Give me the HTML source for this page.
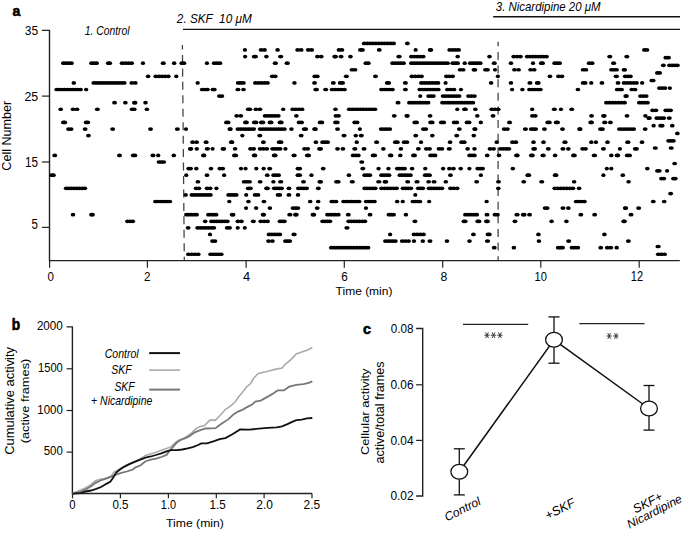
<!DOCTYPE html>
<html><head><meta charset="utf-8"><style>
html,body{margin:0;padding:0;background:#fff;overflow:hidden;width:685px;height:533px;}
svg{display:block;}
</style></head><body>
<svg width="685" height="533" viewBox="0 0 685 533">
<rect width="685" height="533" fill="#fff"/>
<text font-family="Liberation Sans, sans-serif" font-size="100" font-weight="bold" fill="#000" stroke="#000" stroke-width="4" transform="matrix(0.14032,0,0,0.14599,12.40,15.85)" xml:space="preserve">a</text>
<path d="M41.9,30.4 H49.5 V260.6 H679.8" fill="none" stroke="#222" stroke-width="1.4"/>
<line x1="41.9" y1="96.1" x2="49.5" y2="96.1" stroke="#222" stroke-width="1.2"/>
<line x1="41.9" y1="162.0" x2="49.5" y2="162.0" stroke="#222" stroke-width="1.2"/>
<line x1="41.9" y1="227.4" x2="49.5" y2="227.4" stroke="#222" stroke-width="1.2"/>
<text font-family="Liberation Sans, sans-serif" font-size="100" fill="#000"  transform="matrix(0.12050,0,0,0.13559,24.70,34.76)" xml:space="preserve">35</text>
<text font-family="Liberation Sans, sans-serif" font-size="100" fill="#000"  transform="matrix(0.12320,0,0,0.13701,24.40,101.26)" xml:space="preserve">25</text>
<text font-family="Liberation Sans, sans-serif" font-size="100" fill="#000"  transform="matrix(0.11691,0,0,0.13754,25.10,167.36)" xml:space="preserve">15</text>
<text font-family="Liberation Sans, sans-serif" font-size="100" fill="#000"  transform="matrix(0.11511,0,0,0.13754,31.40,228.86)" xml:space="preserve">5</text>
<line x1="49.6" y1="260.6" x2="49.6" y2="267.8" stroke="#222" stroke-width="1.2"/>
<line x1="147.4" y1="260.6" x2="147.4" y2="267.8" stroke="#222" stroke-width="1.2"/>
<line x1="246.1" y1="260.6" x2="246.1" y2="267.8" stroke="#222" stroke-width="1.2"/>
<line x1="344.3" y1="260.6" x2="344.3" y2="267.8" stroke="#222" stroke-width="1.2"/>
<line x1="442.7" y1="260.6" x2="442.7" y2="267.8" stroke="#222" stroke-width="1.2"/>
<line x1="540.8" y1="260.6" x2="540.8" y2="267.8" stroke="#222" stroke-width="1.2"/>
<line x1="639.2" y1="260.6" x2="639.2" y2="267.8" stroke="#222" stroke-width="1.2"/>
<text font-family="Liberation Sans, sans-serif" font-size="100" fill="#000"  transform="matrix(0.11511,0,0,0.13559,47.60,281.16)" xml:space="preserve">0</text>
<text font-family="Liberation Sans, sans-serif" font-size="100" fill="#000"  transform="matrix(0.11691,0,0,0.13181,143.90,281.00)" xml:space="preserve">2</text>
<text font-family="Liberation Sans, sans-serif" font-size="100" fill="#000"  transform="matrix(0.12950,0,0,0.13372,243.00,281.00)" xml:space="preserve">4</text>
<text font-family="Liberation Sans, sans-serif" font-size="100" fill="#000"  transform="matrix(0.11691,0,0,0.13136,341.20,280.77)" xml:space="preserve">6</text>
<text font-family="Liberation Sans, sans-serif" font-size="100" fill="#000"  transform="matrix(0.12230,0,0,0.12994,440.60,280.87)" xml:space="preserve">8</text>
<text font-family="Liberation Sans, sans-serif" font-size="100" fill="#000"  transform="matrix(0.11061,0,0,0.12994,534.60,280.87)" xml:space="preserve">10</text>
<text font-family="Liberation Sans, sans-serif" font-size="100" fill="#000"  transform="matrix(0.11061,0,0,0.13754,630.80,280.90)" xml:space="preserve">12</text>
<text font-family="Liberation Sans, sans-serif" font-size="100" fill="#000"  transform="matrix(0.12004,0,0,0.11803,335.60,294.56)" xml:space="preserve">Time (min)</text>
<text font-family="Liberation Sans, sans-serif" font-size="100" fill="#000" transform="translate(10.68,170.70) rotate(-90) scale(0.12597,0.12245)" xml:space="preserve">Cell Number</text>
<text font-family="Liberation Sans, sans-serif" font-size="100" font-style="italic" fill="#000"  transform="matrix(0.10372,0,0,0.12517,84.70,35.37)" xml:space="preserve">1. Control</text>
<text font-family="Liberation Sans, sans-serif" font-size="100" font-style="italic" fill="#000"  transform="matrix(0.11755,0,0,0.13034,176.87,23.00)" xml:space="preserve">2. SKF  10 μM</text>
<text font-family="Liberation Sans, sans-serif" font-size="100" font-style="italic" fill="#000"  transform="matrix(0.11447,0,0,0.11897,495.80,11.23)" xml:space="preserve">3. Nicardipine 20 μM</text>
<line x1="183" y1="29.4" x2="680" y2="29.4" stroke="#111" stroke-width="1.4"/>
<line x1="493.2" y1="16.8" x2="680" y2="16.8" stroke="#111" stroke-width="1.4"/>
<line x1="182.4" y1="45" x2="184.3" y2="260" stroke="#404040" stroke-width="1.25" stroke-dasharray="8 5.45" stroke-dashoffset="3.5"/>
<line x1="498.1" y1="41.8" x2="498.1" y2="260" stroke="#404040" stroke-width="1.25" stroke-dasharray="8 5.62" stroke-dashoffset="3.5"/>
<g fill="#000"><ellipse cx="63.40" cy="63.14" rx="2.4" ry="1.85"/>
<ellipse cx="66.07" cy="63.14" rx="2.4" ry="1.85"/>
<ellipse cx="68.73" cy="63.14" rx="2.4" ry="1.85"/>
<ellipse cx="71.40" cy="63.14" rx="2.4" ry="1.85"/>
<ellipse cx="91.50" cy="63.14" rx="2.4" ry="1.85"/>
<ellipse cx="94.05" cy="63.14" rx="2.4" ry="1.85"/>
<ellipse cx="96.60" cy="63.14" rx="2.4" ry="1.85"/>
<ellipse cx="108.30" cy="63.14" rx="2.4" ry="1.85"/>
<ellipse cx="109.70" cy="63.14" rx="2.4" ry="1.85"/>
<ellipse cx="122.10" cy="63.14" rx="2.4" ry="1.85"/>
<ellipse cx="125.27" cy="63.14" rx="2.4" ry="1.85"/>
<ellipse cx="128.43" cy="63.14" rx="2.4" ry="1.85"/>
<ellipse cx="131.60" cy="63.14" rx="2.4" ry="1.85"/>
<ellipse cx="142.95" cy="63.14" rx="2.10" ry="1.85"/>
<ellipse cx="163.25" cy="63.14" rx="2.55" ry="1.85"/>
<ellipse cx="174.15" cy="63.14" rx="2.25" ry="1.85"/>
<ellipse cx="181.80" cy="63.14" rx="2.4" ry="1.85"/>
<ellipse cx="183.90" cy="63.14" rx="2.4" ry="1.85"/>
<ellipse cx="206.95" cy="63.14" rx="2.10" ry="1.85"/>
<ellipse cx="214.20" cy="63.14" rx="2.4" ry="1.85"/>
<ellipse cx="217.05" cy="63.14" rx="2.4" ry="1.85"/>
<ellipse cx="219.90" cy="63.14" rx="2.4" ry="1.85"/>
<ellipse cx="275.30" cy="63.14" rx="2.60" ry="1.85"/>
<ellipse cx="287.20" cy="63.14" rx="2.70" ry="1.85"/>
<ellipse cx="365.90" cy="63.14" rx="2.4" ry="1.85"/>
<ellipse cx="368.30" cy="63.14" rx="2.4" ry="1.85"/>
<ellipse cx="392.60" cy="63.14" rx="2.4" ry="1.85"/>
<ellipse cx="395.32" cy="63.14" rx="2.4" ry="1.85"/>
<ellipse cx="398.05" cy="63.14" rx="2.4" ry="1.85"/>
<ellipse cx="400.77" cy="63.14" rx="2.4" ry="1.85"/>
<ellipse cx="403.50" cy="63.14" rx="2.4" ry="1.85"/>
<ellipse cx="411.40" cy="63.14" rx="2.4" ry="1.85"/>
<ellipse cx="414.18" cy="63.14" rx="2.4" ry="1.85"/>
<ellipse cx="416.95" cy="63.14" rx="2.4" ry="1.85"/>
<ellipse cx="419.73" cy="63.14" rx="2.4" ry="1.85"/>
<ellipse cx="422.51" cy="63.14" rx="2.4" ry="1.85"/>
<ellipse cx="425.28" cy="63.14" rx="2.4" ry="1.85"/>
<ellipse cx="428.06" cy="63.14" rx="2.4" ry="1.85"/>
<ellipse cx="430.84" cy="63.14" rx="2.4" ry="1.85"/>
<ellipse cx="433.62" cy="63.14" rx="2.4" ry="1.85"/>
<ellipse cx="436.39" cy="63.14" rx="2.4" ry="1.85"/>
<ellipse cx="439.17" cy="63.14" rx="2.4" ry="1.85"/>
<ellipse cx="441.95" cy="63.14" rx="2.4" ry="1.85"/>
<ellipse cx="444.72" cy="63.14" rx="2.4" ry="1.85"/>
<ellipse cx="447.50" cy="63.14" rx="2.4" ry="1.85"/>
<ellipse cx="452.80" cy="63.14" rx="2.4" ry="1.85"/>
<ellipse cx="455.20" cy="63.14" rx="2.4" ry="1.85"/>
<ellipse cx="457.60" cy="63.14" rx="2.4" ry="1.85"/>
<ellipse cx="464.75" cy="63.14" rx="2.15" ry="1.85"/>
<ellipse cx="470.30" cy="63.14" rx="2.4" ry="1.85"/>
<ellipse cx="472.77" cy="63.14" rx="2.4" ry="1.85"/>
<ellipse cx="475.25" cy="63.14" rx="2.4" ry="1.85"/>
<ellipse cx="477.73" cy="63.14" rx="2.4" ry="1.85"/>
<ellipse cx="480.20" cy="63.14" rx="2.4" ry="1.85"/>
<ellipse cx="494.25" cy="63.14" rx="2.55" ry="1.85"/>
<ellipse cx="510.95" cy="63.14" rx="2.25" ry="1.85"/>
<ellipse cx="533.00" cy="63.14" rx="2.10" ry="1.85"/>
<ellipse cx="541.30" cy="63.14" rx="2.4" ry="1.85"/>
<ellipse cx="542.60" cy="63.14" rx="2.4" ry="1.85"/>
<ellipse cx="554.70" cy="63.14" rx="2.4" ry="1.85"/>
<ellipse cx="557.15" cy="63.14" rx="2.4" ry="1.85"/>
<ellipse cx="559.60" cy="63.14" rx="2.4" ry="1.85"/>
<ellipse cx="589.20" cy="63.14" rx="2.4" ry="1.85"/>
<ellipse cx="592.10" cy="63.14" rx="2.4" ry="1.85"/>
<ellipse cx="613.60" cy="63.14" rx="2.60" ry="1.85"/>
<ellipse cx="148.10" cy="76.32" rx="2.30" ry="1.85"/>
<ellipse cx="155.80" cy="76.32" rx="2.4" ry="1.85"/>
<ellipse cx="158.93" cy="76.32" rx="2.4" ry="1.85"/>
<ellipse cx="162.05" cy="76.32" rx="2.4" ry="1.85"/>
<ellipse cx="165.17" cy="76.32" rx="2.4" ry="1.85"/>
<ellipse cx="168.30" cy="76.32" rx="2.4" ry="1.85"/>
<ellipse cx="176.30" cy="76.32" rx="2.10" ry="1.85"/>
<ellipse cx="272.30" cy="76.32" rx="2.4" ry="1.85"/>
<ellipse cx="275.20" cy="76.32" rx="2.4" ry="1.85"/>
<ellipse cx="314.80" cy="76.32" rx="2.4" ry="1.85"/>
<ellipse cx="317.30" cy="76.32" rx="2.4" ry="1.85"/>
<ellipse cx="346.35" cy="76.32" rx="2.55" ry="1.85"/>
<ellipse cx="375.50" cy="76.32" rx="2.50" ry="1.85"/>
<ellipse cx="411.90" cy="76.32" rx="2.4" ry="1.85"/>
<ellipse cx="415.10" cy="76.32" rx="2.4" ry="1.85"/>
<ellipse cx="418.30" cy="76.32" rx="2.4" ry="1.85"/>
<ellipse cx="421.50" cy="76.32" rx="2.4" ry="1.85"/>
<ellipse cx="446.40" cy="76.32" rx="2.4" ry="1.85"/>
<ellipse cx="449.50" cy="76.32" rx="2.4" ry="1.85"/>
<ellipse cx="452.60" cy="76.32" rx="2.4" ry="1.85"/>
<ellipse cx="497.90" cy="76.32" rx="2.10" ry="1.85"/>
<ellipse cx="549.95" cy="76.32" rx="2.35" ry="1.85"/>
<ellipse cx="558.50" cy="76.32" rx="2.4" ry="1.85"/>
<ellipse cx="561.90" cy="76.32" rx="2.4" ry="1.85"/>
<ellipse cx="616.30" cy="76.32" rx="2.70" ry="1.85"/>
<ellipse cx="625.20" cy="76.32" rx="2.4" ry="1.85"/>
<ellipse cx="627.80" cy="76.32" rx="2.4" ry="1.85"/>
<ellipse cx="630.40" cy="76.32" rx="2.4" ry="1.85"/>
<ellipse cx="73.80" cy="82.91" rx="2.30" ry="1.85"/>
<ellipse cx="93.80" cy="82.91" rx="2.4" ry="1.85"/>
<ellipse cx="96.56" cy="82.91" rx="2.4" ry="1.85"/>
<ellipse cx="99.33" cy="82.91" rx="2.4" ry="1.85"/>
<ellipse cx="102.09" cy="82.91" rx="2.4" ry="1.85"/>
<ellipse cx="104.85" cy="82.91" rx="2.4" ry="1.85"/>
<ellipse cx="107.62" cy="82.91" rx="2.4" ry="1.85"/>
<ellipse cx="110.38" cy="82.91" rx="2.4" ry="1.85"/>
<ellipse cx="113.15" cy="82.91" rx="2.4" ry="1.85"/>
<ellipse cx="115.91" cy="82.91" rx="2.4" ry="1.85"/>
<ellipse cx="118.67" cy="82.91" rx="2.4" ry="1.85"/>
<ellipse cx="121.44" cy="82.91" rx="2.4" ry="1.85"/>
<ellipse cx="124.20" cy="82.91" rx="2.4" ry="1.85"/>
<ellipse cx="131.80" cy="82.91" rx="2.4" ry="1.85"/>
<ellipse cx="135.30" cy="82.91" rx="2.4" ry="1.85"/>
<ellipse cx="197.65" cy="82.91" rx="2.15" ry="1.85"/>
<ellipse cx="238.20" cy="82.91" rx="2.4" ry="1.85"/>
<ellipse cx="240.80" cy="82.91" rx="2.4" ry="1.85"/>
<ellipse cx="243.40" cy="82.91" rx="2.4" ry="1.85"/>
<ellipse cx="255.40" cy="82.91" rx="2.4" ry="1.85"/>
<ellipse cx="258.43" cy="82.91" rx="2.4" ry="1.85"/>
<ellipse cx="261.45" cy="82.91" rx="2.4" ry="1.85"/>
<ellipse cx="264.48" cy="82.91" rx="2.4" ry="1.85"/>
<ellipse cx="267.50" cy="82.91" rx="2.4" ry="1.85"/>
<ellipse cx="294.45" cy="82.91" rx="2.25" ry="1.85"/>
<ellipse cx="314.55" cy="82.91" rx="2.45" ry="1.85"/>
<ellipse cx="333.30" cy="82.91" rx="2.50" ry="1.85"/>
<ellipse cx="340.20" cy="82.91" rx="2.4" ry="1.85"/>
<ellipse cx="342.60" cy="82.91" rx="2.4" ry="1.85"/>
<ellipse cx="387.20" cy="82.91" rx="2.4" ry="1.85"/>
<ellipse cx="388.70" cy="82.91" rx="2.4" ry="1.85"/>
<ellipse cx="405.40" cy="82.91" rx="2.50" ry="1.85"/>
<ellipse cx="421.40" cy="82.91" rx="2.4" ry="1.85"/>
<ellipse cx="424.17" cy="82.91" rx="2.4" ry="1.85"/>
<ellipse cx="426.93" cy="82.91" rx="2.4" ry="1.85"/>
<ellipse cx="429.70" cy="82.91" rx="2.4" ry="1.85"/>
<ellipse cx="432.47" cy="82.91" rx="2.4" ry="1.85"/>
<ellipse cx="435.23" cy="82.91" rx="2.4" ry="1.85"/>
<ellipse cx="438.00" cy="82.91" rx="2.4" ry="1.85"/>
<ellipse cx="445.55" cy="82.91" rx="2.10" ry="1.85"/>
<ellipse cx="491.10" cy="82.91" rx="2.30" ry="1.85"/>
<ellipse cx="510.95" cy="82.91" rx="2.25" ry="1.85"/>
<ellipse cx="529.95" cy="82.91" rx="2.55" ry="1.85"/>
<ellipse cx="537.20" cy="82.91" rx="2.4" ry="1.85"/>
<ellipse cx="538.30" cy="82.91" rx="2.4" ry="1.85"/>
<ellipse cx="583.10" cy="82.91" rx="2.4" ry="1.85"/>
<ellipse cx="585.20" cy="82.91" rx="2.4" ry="1.85"/>
<ellipse cx="591.25" cy="82.91" rx="2.15" ry="1.85"/>
<ellipse cx="601.95" cy="82.91" rx="2.45" ry="1.85"/>
<ellipse cx="618.05" cy="82.91" rx="2.45" ry="1.85"/>
<ellipse cx="624.10" cy="82.91" rx="2.4" ry="1.85"/>
<ellipse cx="627.20" cy="82.91" rx="2.4" ry="1.85"/>
<ellipse cx="630.30" cy="82.91" rx="2.4" ry="1.85"/>
<ellipse cx="633.40" cy="82.91" rx="2.4" ry="1.85"/>
<ellipse cx="636.50" cy="82.91" rx="2.4" ry="1.85"/>
<ellipse cx="642.15" cy="82.91" rx="2.15" ry="1.85"/>
<ellipse cx="56.70" cy="89.50" rx="2.4" ry="1.85"/>
<ellipse cx="59.36" cy="89.50" rx="2.4" ry="1.85"/>
<ellipse cx="62.01" cy="89.50" rx="2.4" ry="1.85"/>
<ellipse cx="64.67" cy="89.50" rx="2.4" ry="1.85"/>
<ellipse cx="67.32" cy="89.50" rx="2.4" ry="1.85"/>
<ellipse cx="69.98" cy="89.50" rx="2.4" ry="1.85"/>
<ellipse cx="72.63" cy="89.50" rx="2.4" ry="1.85"/>
<ellipse cx="75.29" cy="89.50" rx="2.4" ry="1.85"/>
<ellipse cx="77.94" cy="89.50" rx="2.4" ry="1.85"/>
<ellipse cx="80.60" cy="89.50" rx="2.4" ry="1.85"/>
<ellipse cx="86.15" cy="89.50" rx="2.15" ry="1.85"/>
<ellipse cx="202.20" cy="89.50" rx="2.4" ry="1.85"/>
<ellipse cx="204.80" cy="89.50" rx="2.4" ry="1.85"/>
<ellipse cx="207.40" cy="89.50" rx="2.4" ry="1.85"/>
<ellipse cx="212.90" cy="89.50" rx="2.4" ry="1.85"/>
<ellipse cx="214.30" cy="89.50" rx="2.4" ry="1.85"/>
<ellipse cx="237.95" cy="89.50" rx="2.55" ry="1.85"/>
<ellipse cx="243.50" cy="89.50" rx="2.30" ry="1.85"/>
<ellipse cx="315.70" cy="89.50" rx="2.4" ry="1.85"/>
<ellipse cx="316.60" cy="89.50" rx="2.4" ry="1.85"/>
<ellipse cx="325.65" cy="89.50" rx="2.55" ry="1.85"/>
<ellipse cx="332.10" cy="89.50" rx="2.4" ry="1.85"/>
<ellipse cx="335.20" cy="89.50" rx="2.4" ry="1.85"/>
<ellipse cx="338.30" cy="89.50" rx="2.4" ry="1.85"/>
<ellipse cx="341.40" cy="89.50" rx="2.4" ry="1.85"/>
<ellipse cx="344.50" cy="89.50" rx="2.4" ry="1.85"/>
<ellipse cx="381.50" cy="89.50" rx="2.4" ry="1.85"/>
<ellipse cx="384.23" cy="89.50" rx="2.4" ry="1.85"/>
<ellipse cx="386.95" cy="89.50" rx="2.4" ry="1.85"/>
<ellipse cx="389.68" cy="89.50" rx="2.4" ry="1.85"/>
<ellipse cx="392.40" cy="89.50" rx="2.4" ry="1.85"/>
<ellipse cx="405.40" cy="89.50" rx="2.50" ry="1.85"/>
<ellipse cx="419.80" cy="89.50" rx="2.4" ry="1.85"/>
<ellipse cx="422.44" cy="89.50" rx="2.4" ry="1.85"/>
<ellipse cx="425.09" cy="89.50" rx="2.4" ry="1.85"/>
<ellipse cx="427.73" cy="89.50" rx="2.4" ry="1.85"/>
<ellipse cx="430.37" cy="89.50" rx="2.4" ry="1.85"/>
<ellipse cx="433.01" cy="89.50" rx="2.4" ry="1.85"/>
<ellipse cx="435.66" cy="89.50" rx="2.4" ry="1.85"/>
<ellipse cx="438.30" cy="89.50" rx="2.4" ry="1.85"/>
<ellipse cx="447.40" cy="89.50" rx="2.4" ry="1.85"/>
<ellipse cx="450.70" cy="89.50" rx="2.4" ry="1.85"/>
<ellipse cx="454.00" cy="89.50" rx="2.4" ry="1.85"/>
<ellipse cx="460.95" cy="89.50" rx="2.10" ry="1.85"/>
<ellipse cx="512.10" cy="89.50" rx="2.10" ry="1.85"/>
<ellipse cx="522.40" cy="89.50" rx="2.20" ry="1.85"/>
<ellipse cx="529.50" cy="89.50" rx="2.4" ry="1.85"/>
<ellipse cx="532.20" cy="89.50" rx="2.4" ry="1.85"/>
<ellipse cx="534.90" cy="89.50" rx="2.4" ry="1.85"/>
<ellipse cx="537.60" cy="89.50" rx="2.4" ry="1.85"/>
<ellipse cx="540.30" cy="89.50" rx="2.4" ry="1.85"/>
<ellipse cx="577.90" cy="89.50" rx="2.30" ry="1.85"/>
<ellipse cx="617.20" cy="89.50" rx="2.4" ry="1.85"/>
<ellipse cx="619.40" cy="89.50" rx="2.4" ry="1.85"/>
<ellipse cx="621.60" cy="89.50" rx="2.4" ry="1.85"/>
<ellipse cx="631.80" cy="89.50" rx="2.4" ry="1.85"/>
<ellipse cx="635.00" cy="89.50" rx="2.4" ry="1.85"/>
<ellipse cx="114.55" cy="102.68" rx="2.45" ry="1.85"/>
<ellipse cx="125.35" cy="102.68" rx="2.35" ry="1.85"/>
<ellipse cx="134.40" cy="102.68" rx="2.4" ry="1.85"/>
<ellipse cx="135.00" cy="102.68" rx="2.4" ry="1.85"/>
<ellipse cx="145.50" cy="102.68" rx="2.30" ry="1.85"/>
<ellipse cx="398.05" cy="102.68" rx="2.55" ry="1.85"/>
<ellipse cx="409.40" cy="102.68" rx="2.4" ry="1.85"/>
<ellipse cx="412.07" cy="102.68" rx="2.4" ry="1.85"/>
<ellipse cx="414.74" cy="102.68" rx="2.4" ry="1.85"/>
<ellipse cx="417.41" cy="102.68" rx="2.4" ry="1.85"/>
<ellipse cx="420.09" cy="102.68" rx="2.4" ry="1.85"/>
<ellipse cx="422.76" cy="102.68" rx="2.4" ry="1.85"/>
<ellipse cx="425.43" cy="102.68" rx="2.4" ry="1.85"/>
<ellipse cx="428.10" cy="102.68" rx="2.4" ry="1.85"/>
<ellipse cx="442.50" cy="102.68" rx="2.4" ry="1.85"/>
<ellipse cx="445.26" cy="102.68" rx="2.4" ry="1.85"/>
<ellipse cx="448.03" cy="102.68" rx="2.4" ry="1.85"/>
<ellipse cx="450.79" cy="102.68" rx="2.4" ry="1.85"/>
<ellipse cx="453.55" cy="102.68" rx="2.4" ry="1.85"/>
<ellipse cx="456.32" cy="102.68" rx="2.4" ry="1.85"/>
<ellipse cx="459.08" cy="102.68" rx="2.4" ry="1.85"/>
<ellipse cx="461.85" cy="102.68" rx="2.4" ry="1.85"/>
<ellipse cx="464.61" cy="102.68" rx="2.4" ry="1.85"/>
<ellipse cx="467.37" cy="102.68" rx="2.4" ry="1.85"/>
<ellipse cx="470.14" cy="102.68" rx="2.4" ry="1.85"/>
<ellipse cx="472.90" cy="102.68" rx="2.4" ry="1.85"/>
<ellipse cx="606.40" cy="102.68" rx="2.4" ry="1.85"/>
<ellipse cx="609.43" cy="102.68" rx="2.4" ry="1.85"/>
<ellipse cx="612.47" cy="102.68" rx="2.4" ry="1.85"/>
<ellipse cx="615.50" cy="102.68" rx="2.4" ry="1.85"/>
<ellipse cx="618.53" cy="102.68" rx="2.4" ry="1.85"/>
<ellipse cx="621.57" cy="102.68" rx="2.4" ry="1.85"/>
<ellipse cx="624.60" cy="102.68" rx="2.4" ry="1.85"/>
<ellipse cx="639.30" cy="102.68" rx="2.4" ry="1.85"/>
<ellipse cx="642.03" cy="102.68" rx="2.4" ry="1.85"/>
<ellipse cx="644.77" cy="102.68" rx="2.4" ry="1.85"/>
<ellipse cx="647.50" cy="102.68" rx="2.4" ry="1.85"/>
<ellipse cx="60.70" cy="109.27" rx="2.30" ry="1.85"/>
<ellipse cx="73.10" cy="109.27" rx="2.4" ry="1.85"/>
<ellipse cx="77.00" cy="109.27" rx="2.4" ry="1.85"/>
<ellipse cx="97.35" cy="109.27" rx="2.45" ry="1.85"/>
<ellipse cx="132.10" cy="109.27" rx="2.4" ry="1.85"/>
<ellipse cx="134.20" cy="109.27" rx="2.4" ry="1.85"/>
<ellipse cx="146.90" cy="109.27" rx="2.30" ry="1.85"/>
<ellipse cx="248.20" cy="109.27" rx="2.4" ry="1.85"/>
<ellipse cx="249.90" cy="109.27" rx="2.4" ry="1.85"/>
<ellipse cx="255.90" cy="109.27" rx="2.4" ry="1.85"/>
<ellipse cx="259.90" cy="109.27" rx="2.4" ry="1.85"/>
<ellipse cx="283.20" cy="109.27" rx="2.10" ry="1.85"/>
<ellipse cx="292.70" cy="109.27" rx="2.4" ry="1.85"/>
<ellipse cx="295.80" cy="109.27" rx="2.4" ry="1.85"/>
<ellipse cx="298.90" cy="109.27" rx="2.4" ry="1.85"/>
<ellipse cx="302.00" cy="109.27" rx="2.4" ry="1.85"/>
<ellipse cx="335.50" cy="109.27" rx="2.30" ry="1.85"/>
<ellipse cx="349.30" cy="109.27" rx="2.4" ry="1.85"/>
<ellipse cx="352.14" cy="109.27" rx="2.4" ry="1.85"/>
<ellipse cx="354.99" cy="109.27" rx="2.4" ry="1.85"/>
<ellipse cx="357.83" cy="109.27" rx="2.4" ry="1.85"/>
<ellipse cx="360.68" cy="109.27" rx="2.4" ry="1.85"/>
<ellipse cx="363.52" cy="109.27" rx="2.4" ry="1.85"/>
<ellipse cx="366.37" cy="109.27" rx="2.4" ry="1.85"/>
<ellipse cx="369.21" cy="109.27" rx="2.4" ry="1.85"/>
<ellipse cx="372.06" cy="109.27" rx="2.4" ry="1.85"/>
<ellipse cx="374.90" cy="109.27" rx="2.4" ry="1.85"/>
<ellipse cx="457.30" cy="109.27" rx="2.10" ry="1.85"/>
<ellipse cx="464.40" cy="109.27" rx="2.4" ry="1.85"/>
<ellipse cx="465.50" cy="109.27" rx="2.4" ry="1.85"/>
<ellipse cx="475.30" cy="109.27" rx="2.30" ry="1.85"/>
<ellipse cx="491.80" cy="109.27" rx="2.4" ry="1.85"/>
<ellipse cx="495.00" cy="109.27" rx="2.4" ry="1.85"/>
<ellipse cx="498.20" cy="109.27" rx="2.4" ry="1.85"/>
<ellipse cx="532.15" cy="109.27" rx="2.15" ry="1.85"/>
<ellipse cx="554.35" cy="109.27" rx="2.55" ry="1.85"/>
<ellipse cx="560.95" cy="109.27" rx="2.10" ry="1.85"/>
<ellipse cx="571.70" cy="109.27" rx="2.50" ry="1.85"/>
<ellipse cx="244.95" cy="49.97" rx="2.10" ry="1.85"/>
<ellipse cx="261.10" cy="49.97" rx="2.4" ry="1.85"/>
<ellipse cx="264.50" cy="49.97" rx="2.4" ry="1.85"/>
<ellipse cx="277.60" cy="49.97" rx="2.30" ry="1.85"/>
<ellipse cx="297.60" cy="49.97" rx="2.4" ry="1.85"/>
<ellipse cx="301.20" cy="49.97" rx="2.4" ry="1.85"/>
<ellipse cx="308.30" cy="49.97" rx="2.4" ry="1.85"/>
<ellipse cx="311.70" cy="49.97" rx="2.4" ry="1.85"/>
<ellipse cx="339.00" cy="49.97" rx="2.4" ry="1.85"/>
<ellipse cx="341.90" cy="49.97" rx="2.4" ry="1.85"/>
<ellipse cx="360.40" cy="49.97" rx="2.4" ry="1.85"/>
<ellipse cx="362.50" cy="49.97" rx="2.4" ry="1.85"/>
<ellipse cx="379.25" cy="49.97" rx="2.45" ry="1.85"/>
<ellipse cx="415.65" cy="49.97" rx="2.10" ry="1.85"/>
<ellipse cx="430.10" cy="49.97" rx="2.4" ry="1.85"/>
<ellipse cx="430.80" cy="49.97" rx="2.4" ry="1.85"/>
<ellipse cx="449.70" cy="49.97" rx="2.4" ry="1.85"/>
<ellipse cx="452.67" cy="49.97" rx="2.4" ry="1.85"/>
<ellipse cx="455.63" cy="49.97" rx="2.4" ry="1.85"/>
<ellipse cx="458.60" cy="49.97" rx="2.4" ry="1.85"/>
<ellipse cx="644.40" cy="49.97" rx="2.4" ry="1.85"/>
<ellipse cx="646.90" cy="49.97" rx="2.4" ry="1.85"/>
<ellipse cx="245.15" cy="56.56" rx="2.15" ry="1.85"/>
<ellipse cx="254.20" cy="56.56" rx="2.4" ry="1.85"/>
<ellipse cx="255.60" cy="56.56" rx="2.4" ry="1.85"/>
<ellipse cx="266.40" cy="56.56" rx="2.30" ry="1.85"/>
<ellipse cx="280.65" cy="56.56" rx="2.65" ry="1.85"/>
<ellipse cx="317.40" cy="56.56" rx="2.4" ry="1.85"/>
<ellipse cx="321.20" cy="56.56" rx="2.4" ry="1.85"/>
<ellipse cx="334.70" cy="56.56" rx="2.4" ry="1.85"/>
<ellipse cx="335.60" cy="56.56" rx="2.4" ry="1.85"/>
<ellipse cx="341.05" cy="56.56" rx="2.45" ry="1.85"/>
<ellipse cx="350.45" cy="56.56" rx="2.35" ry="1.85"/>
<ellipse cx="399.00" cy="56.56" rx="2.70" ry="1.85"/>
<ellipse cx="411.40" cy="56.56" rx="2.4" ry="1.85"/>
<ellipse cx="414.35" cy="56.56" rx="2.4" ry="1.85"/>
<ellipse cx="417.30" cy="56.56" rx="2.4" ry="1.85"/>
<ellipse cx="420.25" cy="56.56" rx="2.4" ry="1.85"/>
<ellipse cx="423.20" cy="56.56" rx="2.4" ry="1.85"/>
<ellipse cx="457.70" cy="56.56" rx="2.30" ry="1.85"/>
<ellipse cx="489.50" cy="56.56" rx="2.30" ry="1.85"/>
<ellipse cx="513.70" cy="56.56" rx="2.4" ry="1.85"/>
<ellipse cx="517.05" cy="56.56" rx="2.4" ry="1.85"/>
<ellipse cx="520.40" cy="56.56" rx="2.4" ry="1.85"/>
<ellipse cx="527.20" cy="56.56" rx="2.4" ry="1.85"/>
<ellipse cx="529.96" cy="56.56" rx="2.4" ry="1.85"/>
<ellipse cx="532.71" cy="56.56" rx="2.4" ry="1.85"/>
<ellipse cx="535.47" cy="56.56" rx="2.4" ry="1.85"/>
<ellipse cx="538.23" cy="56.56" rx="2.4" ry="1.85"/>
<ellipse cx="540.99" cy="56.56" rx="2.4" ry="1.85"/>
<ellipse cx="543.74" cy="56.56" rx="2.4" ry="1.85"/>
<ellipse cx="546.50" cy="56.56" rx="2.4" ry="1.85"/>
<ellipse cx="609.80" cy="56.56" rx="2.60" ry="1.85"/>
<ellipse cx="626.85" cy="56.56" rx="2.55" ry="1.85"/>
<ellipse cx="219.40" cy="96.09" rx="2.4" ry="1.85"/>
<ellipse cx="221.90" cy="96.09" rx="2.4" ry="1.85"/>
<ellipse cx="420.25" cy="96.09" rx="2.10" ry="1.85"/>
<ellipse cx="428.60" cy="96.09" rx="2.4" ry="1.85"/>
<ellipse cx="431.00" cy="96.09" rx="2.4" ry="1.85"/>
<ellipse cx="433.40" cy="96.09" rx="2.4" ry="1.85"/>
<ellipse cx="443.10" cy="96.09" rx="2.4" ry="1.85"/>
<ellipse cx="445.77" cy="96.09" rx="2.4" ry="1.85"/>
<ellipse cx="448.43" cy="96.09" rx="2.4" ry="1.85"/>
<ellipse cx="451.10" cy="96.09" rx="2.4" ry="1.85"/>
<ellipse cx="453.77" cy="96.09" rx="2.4" ry="1.85"/>
<ellipse cx="456.43" cy="96.09" rx="2.4" ry="1.85"/>
<ellipse cx="459.10" cy="96.09" rx="2.4" ry="1.85"/>
<ellipse cx="468.50" cy="96.09" rx="2.4" ry="1.85"/>
<ellipse cx="471.45" cy="96.09" rx="2.4" ry="1.85"/>
<ellipse cx="474.40" cy="96.09" rx="2.4" ry="1.85"/>
<ellipse cx="625.70" cy="96.09" rx="2.4" ry="1.85"/>
<ellipse cx="626.50" cy="96.09" rx="2.4" ry="1.85"/>
<ellipse cx="640.50" cy="96.09" rx="2.4" ry="1.85"/>
<ellipse cx="643.35" cy="96.09" rx="2.4" ry="1.85"/>
<ellipse cx="646.20" cy="96.09" rx="2.4" ry="1.85"/>
<ellipse cx="352.00" cy="69.73" rx="2.4" ry="1.85"/>
<ellipse cx="355.00" cy="69.73" rx="2.4" ry="1.85"/>
<ellipse cx="460.10" cy="69.73" rx="2.4" ry="1.85"/>
<ellipse cx="463.20" cy="69.73" rx="2.4" ry="1.85"/>
<ellipse cx="473.90" cy="69.73" rx="2.4" ry="1.85"/>
<ellipse cx="474.90" cy="69.73" rx="2.4" ry="1.85"/>
<ellipse cx="485.40" cy="69.73" rx="2.4" ry="1.85"/>
<ellipse cx="487.50" cy="69.73" rx="2.4" ry="1.85"/>
<ellipse cx="495.00" cy="69.73" rx="2.10" ry="1.85"/>
<ellipse cx="514.50" cy="69.73" rx="2.4" ry="1.85"/>
<ellipse cx="518.60" cy="69.73" rx="2.4" ry="1.85"/>
<ellipse cx="530.60" cy="69.73" rx="2.4" ry="1.85"/>
<ellipse cx="534.20" cy="69.73" rx="2.4" ry="1.85"/>
<ellipse cx="583.10" cy="69.73" rx="2.4" ry="1.85"/>
<ellipse cx="585.90" cy="69.73" rx="2.4" ry="1.85"/>
<ellipse cx="611.40" cy="69.73" rx="2.4" ry="1.85"/>
<ellipse cx="614.00" cy="69.73" rx="2.4" ry="1.85"/>
<ellipse cx="616.60" cy="69.73" rx="2.4" ry="1.85"/>
<ellipse cx="624.00" cy="69.73" rx="2.4" ry="1.85"/>
<ellipse cx="624.70" cy="69.73" rx="2.4" ry="1.85"/>
<ellipse cx="364.20" cy="43.38" rx="2.4" ry="1.85"/>
<ellipse cx="367.14" cy="43.38" rx="2.4" ry="1.85"/>
<ellipse cx="370.08" cy="43.38" rx="2.4" ry="1.85"/>
<ellipse cx="373.02" cy="43.38" rx="2.4" ry="1.85"/>
<ellipse cx="375.96" cy="43.38" rx="2.4" ry="1.85"/>
<ellipse cx="378.90" cy="43.38" rx="2.4" ry="1.85"/>
<ellipse cx="381.84" cy="43.38" rx="2.4" ry="1.85"/>
<ellipse cx="384.78" cy="43.38" rx="2.4" ry="1.85"/>
<ellipse cx="387.72" cy="43.38" rx="2.4" ry="1.85"/>
<ellipse cx="390.66" cy="43.38" rx="2.4" ry="1.85"/>
<ellipse cx="393.60" cy="43.38" rx="2.4" ry="1.85"/>
<ellipse cx="407.35" cy="43.38" rx="2.45" ry="1.85"/>
<ellipse cx="665.80" cy="57.70" rx="2.4" ry="1.85"/>
<ellipse cx="668.60" cy="57.70" rx="2.4" ry="1.85"/>
<ellipse cx="663.40" cy="65.30" rx="2.50" ry="1.85"/>
<ellipse cx="669.50" cy="65.30" rx="2.4" ry="1.85"/>
<ellipse cx="672.13" cy="65.30" rx="2.4" ry="1.85"/>
<ellipse cx="674.77" cy="65.30" rx="2.4" ry="1.85"/>
<ellipse cx="677.40" cy="65.30" rx="2.4" ry="1.85"/>
<ellipse cx="657.40" cy="72.90" rx="2.4" ry="1.85"/>
<ellipse cx="659.70" cy="72.90" rx="2.4" ry="1.85"/>
<ellipse cx="651.80" cy="80.50" rx="2.4" ry="1.85"/>
<ellipse cx="653.20" cy="80.50" rx="2.4" ry="1.85"/>
<ellipse cx="659.40" cy="88.10" rx="2.4" ry="1.85"/>
<ellipse cx="662.25" cy="88.10" rx="2.4" ry="1.85"/>
<ellipse cx="665.10" cy="88.10" rx="2.4" ry="1.85"/>
<ellipse cx="669.90" cy="88.10" rx="2.10" ry="1.85"/>
<ellipse cx="652.60" cy="110.30" rx="2.4" ry="1.85"/>
<ellipse cx="655.90" cy="110.30" rx="2.4" ry="1.85"/>
<ellipse cx="665.80" cy="110.30" rx="2.4" ry="1.85"/>
<ellipse cx="668.20" cy="110.30" rx="2.4" ry="1.85"/>
<ellipse cx="670.60" cy="110.30" rx="2.4" ry="1.85"/>
<ellipse cx="63.40" cy="122.45" rx="2.4" ry="1.85"/>
<ellipse cx="64.80" cy="122.45" rx="2.4" ry="1.85"/>
<ellipse cx="86.10" cy="122.45" rx="2.4" ry="1.85"/>
<ellipse cx="87.80" cy="122.45" rx="2.4" ry="1.85"/>
<ellipse cx="226.40" cy="122.45" rx="2.4" ry="1.85"/>
<ellipse cx="228.10" cy="122.45" rx="2.4" ry="1.85"/>
<ellipse cx="245.40" cy="122.45" rx="2.4" ry="1.85"/>
<ellipse cx="246.50" cy="122.45" rx="2.4" ry="1.85"/>
<ellipse cx="254.30" cy="122.45" rx="2.4" ry="1.85"/>
<ellipse cx="256.00" cy="122.45" rx="2.4" ry="1.85"/>
<ellipse cx="261.30" cy="122.45" rx="2.4" ry="1.85"/>
<ellipse cx="262.90" cy="122.45" rx="2.4" ry="1.85"/>
<ellipse cx="270.00" cy="122.45" rx="2.4" ry="1.85"/>
<ellipse cx="271.10" cy="122.45" rx="2.4" ry="1.85"/>
<ellipse cx="280.00" cy="122.45" rx="2.4" ry="1.85"/>
<ellipse cx="281.30" cy="122.45" rx="2.4" ry="1.85"/>
<ellipse cx="299.10" cy="122.45" rx="2.4" ry="1.85"/>
<ellipse cx="301.60" cy="122.45" rx="2.4" ry="1.85"/>
<ellipse cx="320.10" cy="122.45" rx="2.4" ry="1.85"/>
<ellipse cx="321.90" cy="122.45" rx="2.4" ry="1.85"/>
<ellipse cx="335.50" cy="122.45" rx="2.4" ry="1.85"/>
<ellipse cx="337.30" cy="122.45" rx="2.4" ry="1.85"/>
<ellipse cx="354.70" cy="122.45" rx="2.4" ry="1.85"/>
<ellipse cx="357.10" cy="122.45" rx="2.4" ry="1.85"/>
<ellipse cx="414.80" cy="122.45" rx="2.4" ry="1.85"/>
<ellipse cx="416.60" cy="122.45" rx="2.4" ry="1.85"/>
<ellipse cx="430.60" cy="122.45" rx="2.4" ry="1.85"/>
<ellipse cx="432.20" cy="122.45" rx="2.4" ry="1.85"/>
<ellipse cx="441.30" cy="122.45" rx="2.4" ry="1.85"/>
<ellipse cx="443.70" cy="122.45" rx="2.4" ry="1.85"/>
<ellipse cx="454.20" cy="122.45" rx="2.4" ry="1.85"/>
<ellipse cx="456.80" cy="122.45" rx="2.4" ry="1.85"/>
<ellipse cx="467.00" cy="122.45" rx="2.4" ry="1.85"/>
<ellipse cx="469.10" cy="122.45" rx="2.4" ry="1.85"/>
<ellipse cx="480.85" cy="122.45" rx="2.15" ry="1.85"/>
<ellipse cx="509.55" cy="122.45" rx="2.55" ry="1.85"/>
<ellipse cx="547.70" cy="122.45" rx="2.4" ry="1.85"/>
<ellipse cx="549.40" cy="122.45" rx="2.4" ry="1.85"/>
<ellipse cx="556.20" cy="122.45" rx="2.4" ry="1.85"/>
<ellipse cx="557.60" cy="122.45" rx="2.4" ry="1.85"/>
<ellipse cx="590.70" cy="122.45" rx="2.4" ry="1.85"/>
<ellipse cx="591.60" cy="122.45" rx="2.4" ry="1.85"/>
<ellipse cx="604.80" cy="122.45" rx="2.70" ry="1.85"/>
<ellipse cx="610.40" cy="122.45" rx="2.40" ry="1.85"/>
<ellipse cx="68.50" cy="129.03" rx="2.4" ry="1.85"/>
<ellipse cx="71.10" cy="129.03" rx="2.4" ry="1.85"/>
<ellipse cx="85.10" cy="129.03" rx="2.50" ry="1.85"/>
<ellipse cx="112.65" cy="129.03" rx="2.45" ry="1.85"/>
<ellipse cx="150.55" cy="129.03" rx="2.45" ry="1.85"/>
<ellipse cx="177.35" cy="129.03" rx="2.55" ry="1.85"/>
<ellipse cx="186.00" cy="129.03" rx="2.10" ry="1.85"/>
<ellipse cx="229.80" cy="129.03" rx="2.4" ry="1.85"/>
<ellipse cx="230.40" cy="129.03" rx="2.4" ry="1.85"/>
<ellipse cx="237.90" cy="129.03" rx="2.4" ry="1.85"/>
<ellipse cx="240.53" cy="129.03" rx="2.4" ry="1.85"/>
<ellipse cx="243.17" cy="129.03" rx="2.4" ry="1.85"/>
<ellipse cx="245.80" cy="129.03" rx="2.4" ry="1.85"/>
<ellipse cx="248.43" cy="129.03" rx="2.4" ry="1.85"/>
<ellipse cx="251.07" cy="129.03" rx="2.4" ry="1.85"/>
<ellipse cx="253.70" cy="129.03" rx="2.4" ry="1.85"/>
<ellipse cx="260.10" cy="129.03" rx="2.4" ry="1.85"/>
<ellipse cx="262.80" cy="129.03" rx="2.4" ry="1.85"/>
<ellipse cx="265.50" cy="129.03" rx="2.4" ry="1.85"/>
<ellipse cx="268.20" cy="129.03" rx="2.4" ry="1.85"/>
<ellipse cx="270.90" cy="129.03" rx="2.4" ry="1.85"/>
<ellipse cx="273.60" cy="129.03" rx="2.4" ry="1.85"/>
<ellipse cx="276.30" cy="129.03" rx="2.4" ry="1.85"/>
<ellipse cx="279.00" cy="129.03" rx="2.4" ry="1.85"/>
<ellipse cx="281.70" cy="129.03" rx="2.4" ry="1.85"/>
<ellipse cx="284.40" cy="129.03" rx="2.4" ry="1.85"/>
<ellipse cx="291.40" cy="129.03" rx="2.30" ry="1.85"/>
<ellipse cx="304.10" cy="129.03" rx="2.4" ry="1.85"/>
<ellipse cx="305.80" cy="129.03" rx="2.4" ry="1.85"/>
<ellipse cx="314.50" cy="129.03" rx="2.4" ry="1.85"/>
<ellipse cx="315.50" cy="129.03" rx="2.4" ry="1.85"/>
<ellipse cx="337.55" cy="129.03" rx="2.45" ry="1.85"/>
<ellipse cx="359.85" cy="129.03" rx="2.15" ry="1.85"/>
<ellipse cx="381.20" cy="129.03" rx="2.4" ry="1.85"/>
<ellipse cx="384.07" cy="129.03" rx="2.4" ry="1.85"/>
<ellipse cx="386.93" cy="129.03" rx="2.4" ry="1.85"/>
<ellipse cx="389.80" cy="129.03" rx="2.4" ry="1.85"/>
<ellipse cx="423.40" cy="129.03" rx="2.4" ry="1.85"/>
<ellipse cx="425.80" cy="129.03" rx="2.4" ry="1.85"/>
<ellipse cx="459.35" cy="129.03" rx="2.45" ry="1.85"/>
<ellipse cx="474.60" cy="129.03" rx="2.4" ry="1.85"/>
<ellipse cx="475.20" cy="129.03" rx="2.4" ry="1.85"/>
<ellipse cx="504.20" cy="129.03" rx="2.4" ry="1.85"/>
<ellipse cx="507.40" cy="129.03" rx="2.4" ry="1.85"/>
<ellipse cx="525.40" cy="129.03" rx="2.60" ry="1.85"/>
<ellipse cx="531.20" cy="129.03" rx="2.4" ry="1.85"/>
<ellipse cx="533.45" cy="129.03" rx="2.4" ry="1.85"/>
<ellipse cx="535.70" cy="129.03" rx="2.4" ry="1.85"/>
<ellipse cx="544.45" cy="129.03" rx="2.45" ry="1.85"/>
<ellipse cx="562.50" cy="129.03" rx="2.50" ry="1.85"/>
<ellipse cx="579.50" cy="129.03" rx="2.4" ry="1.85"/>
<ellipse cx="580.20" cy="129.03" rx="2.4" ry="1.85"/>
<ellipse cx="600.40" cy="129.03" rx="2.4" ry="1.85"/>
<ellipse cx="602.50" cy="129.03" rx="2.4" ry="1.85"/>
<ellipse cx="619.40" cy="129.03" rx="2.4" ry="1.85"/>
<ellipse cx="622.26" cy="129.03" rx="2.4" ry="1.85"/>
<ellipse cx="625.12" cy="129.03" rx="2.4" ry="1.85"/>
<ellipse cx="627.98" cy="129.03" rx="2.4" ry="1.85"/>
<ellipse cx="630.84" cy="129.03" rx="2.4" ry="1.85"/>
<ellipse cx="633.70" cy="129.03" rx="2.4" ry="1.85"/>
<ellipse cx="645.15" cy="129.03" rx="2.45" ry="1.85"/>
<ellipse cx="88.45" cy="135.62" rx="2.45" ry="1.85"/>
<ellipse cx="242.35" cy="135.62" rx="2.10" ry="1.85"/>
<ellipse cx="259.75" cy="135.62" rx="2.55" ry="1.85"/>
<ellipse cx="301.15" cy="135.62" rx="2.45" ry="1.85"/>
<ellipse cx="344.05" cy="135.62" rx="2.55" ry="1.85"/>
<ellipse cx="355.75" cy="135.62" rx="2.25" ry="1.85"/>
<ellipse cx="361.25" cy="135.62" rx="2.55" ry="1.85"/>
<ellipse cx="415.75" cy="135.62" rx="2.45" ry="1.85"/>
<ellipse cx="432.30" cy="135.62" rx="2.30" ry="1.85"/>
<ellipse cx="456.70" cy="135.62" rx="2.50" ry="1.85"/>
<ellipse cx="473.80" cy="135.62" rx="2.30" ry="1.85"/>
<ellipse cx="54.75" cy="155.39" rx="2.45" ry="1.85"/>
<ellipse cx="119.50" cy="155.39" rx="2.50" ry="1.85"/>
<ellipse cx="133.20" cy="155.39" rx="2.4" ry="1.85"/>
<ellipse cx="135.00" cy="155.39" rx="2.4" ry="1.85"/>
<ellipse cx="152.95" cy="155.39" rx="2.55" ry="1.85"/>
<ellipse cx="158.20" cy="155.39" rx="2.20" ry="1.85"/>
<ellipse cx="173.80" cy="155.39" rx="2.30" ry="1.85"/>
<ellipse cx="203.40" cy="155.39" rx="2.4" ry="1.85"/>
<ellipse cx="204.00" cy="155.39" rx="2.4" ry="1.85"/>
<ellipse cx="234.40" cy="155.39" rx="2.4" ry="1.85"/>
<ellipse cx="235.70" cy="155.39" rx="2.4" ry="1.85"/>
<ellipse cx="254.20" cy="155.39" rx="2.4" ry="1.85"/>
<ellipse cx="255.00" cy="155.39" rx="2.4" ry="1.85"/>
<ellipse cx="274.20" cy="155.39" rx="2.4" ry="1.85"/>
<ellipse cx="275.20" cy="155.39" rx="2.4" ry="1.85"/>
<ellipse cx="294.05" cy="155.39" rx="2.65" ry="1.85"/>
<ellipse cx="307.30" cy="155.39" rx="2.4" ry="1.85"/>
<ellipse cx="308.60" cy="155.39" rx="2.4" ry="1.85"/>
<ellipse cx="353.10" cy="155.39" rx="2.4" ry="1.85"/>
<ellipse cx="355.70" cy="155.39" rx="2.4" ry="1.85"/>
<ellipse cx="358.30" cy="155.39" rx="2.4" ry="1.85"/>
<ellipse cx="373.10" cy="155.39" rx="2.4" ry="1.85"/>
<ellipse cx="374.70" cy="155.39" rx="2.4" ry="1.85"/>
<ellipse cx="390.30" cy="155.39" rx="2.4" ry="1.85"/>
<ellipse cx="391.00" cy="155.39" rx="2.4" ry="1.85"/>
<ellipse cx="400.30" cy="155.39" rx="2.30" ry="1.85"/>
<ellipse cx="413.40" cy="155.39" rx="2.4" ry="1.85"/>
<ellipse cx="414.60" cy="155.39" rx="2.4" ry="1.85"/>
<ellipse cx="430.60" cy="155.39" rx="2.4" ry="1.85"/>
<ellipse cx="432.80" cy="155.39" rx="2.4" ry="1.85"/>
<ellipse cx="435.00" cy="155.39" rx="2.4" ry="1.85"/>
<ellipse cx="469.60" cy="155.39" rx="2.4" ry="1.85"/>
<ellipse cx="472.00" cy="155.39" rx="2.4" ry="1.85"/>
<ellipse cx="474.40" cy="155.39" rx="2.4" ry="1.85"/>
<ellipse cx="487.20" cy="155.39" rx="2.30" ry="1.85"/>
<ellipse cx="499.00" cy="155.39" rx="2.30" ry="1.85"/>
<ellipse cx="516.50" cy="155.39" rx="2.4" ry="1.85"/>
<ellipse cx="517.30" cy="155.39" rx="2.4" ry="1.85"/>
<ellipse cx="531.30" cy="155.39" rx="2.4" ry="1.85"/>
<ellipse cx="532.40" cy="155.39" rx="2.4" ry="1.85"/>
<ellipse cx="543.10" cy="155.39" rx="2.70" ry="1.85"/>
<ellipse cx="555.10" cy="155.39" rx="2.30" ry="1.85"/>
<ellipse cx="573.40" cy="155.39" rx="2.4" ry="1.85"/>
<ellipse cx="574.40" cy="155.39" rx="2.4" ry="1.85"/>
<ellipse cx="594.40" cy="155.39" rx="2.70" ry="1.85"/>
<ellipse cx="611.30" cy="155.39" rx="2.30" ry="1.85"/>
<ellipse cx="617.10" cy="155.39" rx="2.4" ry="1.85"/>
<ellipse cx="617.80" cy="155.39" rx="2.4" ry="1.85"/>
<ellipse cx="627.20" cy="155.39" rx="2.4" ry="1.85"/>
<ellipse cx="629.60" cy="155.39" rx="2.4" ry="1.85"/>
<ellipse cx="51.60" cy="175.16" rx="2.4" ry="1.85"/>
<ellipse cx="53.40" cy="175.16" rx="2.4" ry="1.85"/>
<ellipse cx="186.25" cy="175.16" rx="2.10" ry="1.85"/>
<ellipse cx="207.00" cy="175.16" rx="2.30" ry="1.85"/>
<ellipse cx="224.10" cy="175.16" rx="2.10" ry="1.85"/>
<ellipse cx="267.25" cy="175.16" rx="2.35" ry="1.85"/>
<ellipse cx="273.60" cy="175.16" rx="2.4" ry="1.85"/>
<ellipse cx="276.10" cy="175.16" rx="2.4" ry="1.85"/>
<ellipse cx="278.60" cy="175.16" rx="2.4" ry="1.85"/>
<ellipse cx="297.90" cy="175.16" rx="2.4" ry="1.85"/>
<ellipse cx="299.70" cy="175.16" rx="2.4" ry="1.85"/>
<ellipse cx="311.45" cy="175.16" rx="2.15" ry="1.85"/>
<ellipse cx="348.90" cy="175.16" rx="2.30" ry="1.85"/>
<ellipse cx="364.70" cy="175.16" rx="2.4" ry="1.85"/>
<ellipse cx="367.25" cy="175.16" rx="2.4" ry="1.85"/>
<ellipse cx="369.80" cy="175.16" rx="2.4" ry="1.85"/>
<ellipse cx="381.50" cy="175.16" rx="2.4" ry="1.85"/>
<ellipse cx="384.00" cy="175.16" rx="2.4" ry="1.85"/>
<ellipse cx="386.50" cy="175.16" rx="2.4" ry="1.85"/>
<ellipse cx="389.00" cy="175.16" rx="2.4" ry="1.85"/>
<ellipse cx="399.90" cy="175.16" rx="2.4" ry="1.85"/>
<ellipse cx="402.52" cy="175.16" rx="2.4" ry="1.85"/>
<ellipse cx="405.15" cy="175.16" rx="2.4" ry="1.85"/>
<ellipse cx="407.78" cy="175.16" rx="2.4" ry="1.85"/>
<ellipse cx="410.40" cy="175.16" rx="2.4" ry="1.85"/>
<ellipse cx="425.20" cy="175.16" rx="2.4" ry="1.85"/>
<ellipse cx="427.40" cy="175.16" rx="2.4" ry="1.85"/>
<ellipse cx="429.60" cy="175.16" rx="2.4" ry="1.85"/>
<ellipse cx="450.45" cy="175.16" rx="2.35" ry="1.85"/>
<ellipse cx="480.90" cy="175.16" rx="2.10" ry="1.85"/>
<ellipse cx="527.80" cy="175.16" rx="2.4" ry="1.85"/>
<ellipse cx="528.80" cy="175.16" rx="2.4" ry="1.85"/>
<ellipse cx="555.20" cy="175.16" rx="2.4" ry="1.85"/>
<ellipse cx="556.00" cy="175.16" rx="2.4" ry="1.85"/>
<ellipse cx="603.40" cy="175.16" rx="2.10" ry="1.85"/>
<ellipse cx="622.80" cy="175.16" rx="2.30" ry="1.85"/>
<ellipse cx="236.70" cy="115.86" rx="2.4" ry="1.85"/>
<ellipse cx="240.80" cy="115.86" rx="2.4" ry="1.85"/>
<ellipse cx="265.10" cy="115.86" rx="2.4" ry="1.85"/>
<ellipse cx="267.74" cy="115.86" rx="2.4" ry="1.85"/>
<ellipse cx="270.38" cy="115.86" rx="2.4" ry="1.85"/>
<ellipse cx="273.02" cy="115.86" rx="2.4" ry="1.85"/>
<ellipse cx="275.66" cy="115.86" rx="2.4" ry="1.85"/>
<ellipse cx="278.30" cy="115.86" rx="2.4" ry="1.85"/>
<ellipse cx="296.35" cy="115.86" rx="2.35" ry="1.85"/>
<ellipse cx="335.90" cy="115.86" rx="2.4" ry="1.85"/>
<ellipse cx="338.50" cy="115.86" rx="2.4" ry="1.85"/>
<ellipse cx="394.25" cy="115.86" rx="2.45" ry="1.85"/>
<ellipse cx="406.80" cy="115.86" rx="2.4" ry="1.85"/>
<ellipse cx="407.40" cy="115.86" rx="2.4" ry="1.85"/>
<ellipse cx="430.10" cy="115.86" rx="2.40" ry="1.85"/>
<ellipse cx="477.30" cy="115.86" rx="2.30" ry="1.85"/>
<ellipse cx="493.05" cy="115.86" rx="2.45" ry="1.85"/>
<ellipse cx="532.40" cy="115.86" rx="2.4" ry="1.85"/>
<ellipse cx="535.30" cy="115.86" rx="2.4" ry="1.85"/>
<ellipse cx="591.55" cy="115.86" rx="2.45" ry="1.85"/>
<ellipse cx="603.40" cy="115.86" rx="2.4" ry="1.85"/>
<ellipse cx="604.30" cy="115.86" rx="2.4" ry="1.85"/>
<ellipse cx="627.00" cy="115.86" rx="2.40" ry="1.85"/>
<ellipse cx="645.40" cy="115.86" rx="2.20" ry="1.85"/>
<ellipse cx="192.60" cy="142.21" rx="2.4" ry="1.85"/>
<ellipse cx="196.60" cy="142.21" rx="2.4" ry="1.85"/>
<ellipse cx="206.10" cy="142.21" rx="2.50" ry="1.85"/>
<ellipse cx="231.30" cy="142.21" rx="2.4" ry="1.85"/>
<ellipse cx="231.90" cy="142.21" rx="2.4" ry="1.85"/>
<ellipse cx="263.40" cy="142.21" rx="2.40" ry="1.85"/>
<ellipse cx="279.20" cy="142.21" rx="2.4" ry="1.85"/>
<ellipse cx="281.00" cy="142.21" rx="2.4" ry="1.85"/>
<ellipse cx="315.90" cy="142.21" rx="2.30" ry="1.85"/>
<ellipse cx="322.60" cy="142.21" rx="2.4" ry="1.85"/>
<ellipse cx="325.10" cy="142.21" rx="2.4" ry="1.85"/>
<ellipse cx="327.60" cy="142.21" rx="2.4" ry="1.85"/>
<ellipse cx="356.75" cy="142.21" rx="2.15" ry="1.85"/>
<ellipse cx="376.60" cy="142.21" rx="2.50" ry="1.85"/>
<ellipse cx="395.30" cy="142.21" rx="2.4" ry="1.85"/>
<ellipse cx="397.40" cy="142.21" rx="2.4" ry="1.85"/>
<ellipse cx="404.10" cy="142.21" rx="2.4" ry="1.85"/>
<ellipse cx="406.90" cy="142.21" rx="2.4" ry="1.85"/>
<ellipse cx="421.05" cy="142.21" rx="2.10" ry="1.85"/>
<ellipse cx="450.05" cy="142.21" rx="2.25" ry="1.85"/>
<ellipse cx="461.60" cy="142.21" rx="2.4" ry="1.85"/>
<ellipse cx="464.20" cy="142.21" rx="2.4" ry="1.85"/>
<ellipse cx="496.75" cy="142.21" rx="2.25" ry="1.85"/>
<ellipse cx="512.50" cy="142.21" rx="2.4" ry="1.85"/>
<ellipse cx="515.80" cy="142.21" rx="2.4" ry="1.85"/>
<ellipse cx="533.50" cy="142.21" rx="2.30" ry="1.85"/>
<ellipse cx="543.50" cy="142.21" rx="2.30" ry="1.85"/>
<ellipse cx="564.95" cy="142.21" rx="2.65" ry="1.85"/>
<ellipse cx="591.30" cy="142.21" rx="2.20" ry="1.85"/>
<ellipse cx="595.90" cy="142.21" rx="2.10" ry="1.85"/>
<ellipse cx="607.50" cy="142.21" rx="2.30" ry="1.85"/>
<ellipse cx="627.80" cy="142.21" rx="2.70" ry="1.85"/>
<ellipse cx="642.00" cy="142.21" rx="2.30" ry="1.85"/>
<ellipse cx="190.30" cy="148.80" rx="2.4" ry="1.85"/>
<ellipse cx="190.90" cy="148.80" rx="2.4" ry="1.85"/>
<ellipse cx="196.75" cy="148.80" rx="2.25" ry="1.85"/>
<ellipse cx="207.35" cy="148.80" rx="2.65" ry="1.85"/>
<ellipse cx="212.60" cy="148.80" rx="2.10" ry="1.85"/>
<ellipse cx="222.90" cy="148.80" rx="2.4" ry="1.85"/>
<ellipse cx="223.80" cy="148.80" rx="2.4" ry="1.85"/>
<ellipse cx="235.10" cy="148.80" rx="2.30" ry="1.85"/>
<ellipse cx="250.50" cy="148.80" rx="2.4" ry="1.85"/>
<ellipse cx="253.70" cy="148.80" rx="2.4" ry="1.85"/>
<ellipse cx="260.10" cy="148.80" rx="2.4" ry="1.85"/>
<ellipse cx="263.45" cy="148.80" rx="2.4" ry="1.85"/>
<ellipse cx="266.80" cy="148.80" rx="2.4" ry="1.85"/>
<ellipse cx="272.60" cy="148.80" rx="2.4" ry="1.85"/>
<ellipse cx="275.10" cy="148.80" rx="2.4" ry="1.85"/>
<ellipse cx="277.60" cy="148.80" rx="2.4" ry="1.85"/>
<ellipse cx="280.10" cy="148.80" rx="2.4" ry="1.85"/>
<ellipse cx="285.45" cy="148.80" rx="2.15" ry="1.85"/>
<ellipse cx="304.50" cy="148.80" rx="2.4" ry="1.85"/>
<ellipse cx="307.70" cy="148.80" rx="2.4" ry="1.85"/>
<ellipse cx="319.40" cy="148.80" rx="2.4" ry="1.85"/>
<ellipse cx="320.70" cy="148.80" rx="2.4" ry="1.85"/>
<ellipse cx="337.55" cy="148.80" rx="2.45" ry="1.85"/>
<ellipse cx="342.90" cy="148.80" rx="2.40" ry="1.85"/>
<ellipse cx="354.80" cy="148.80" rx="2.60" ry="1.85"/>
<ellipse cx="364.05" cy="148.80" rx="2.55" ry="1.85"/>
<ellipse cx="383.35" cy="148.80" rx="2.35" ry="1.85"/>
<ellipse cx="400.90" cy="148.80" rx="2.30" ry="1.85"/>
<ellipse cx="418.35" cy="148.80" rx="2.45" ry="1.85"/>
<ellipse cx="426.30" cy="148.80" rx="2.4" ry="1.85"/>
<ellipse cx="429.60" cy="148.80" rx="2.4" ry="1.85"/>
<ellipse cx="439.00" cy="148.80" rx="2.4" ry="1.85"/>
<ellipse cx="441.90" cy="148.80" rx="2.4" ry="1.85"/>
<ellipse cx="449.25" cy="148.80" rx="2.65" ry="1.85"/>
<ellipse cx="467.60" cy="148.80" rx="2.30" ry="1.85"/>
<ellipse cx="474.50" cy="148.80" rx="2.30" ry="1.85"/>
<ellipse cx="490.00" cy="148.80" rx="2.4" ry="1.85"/>
<ellipse cx="493.60" cy="148.80" rx="2.4" ry="1.85"/>
<ellipse cx="500.70" cy="148.80" rx="2.4" ry="1.85"/>
<ellipse cx="503.43" cy="148.80" rx="2.4" ry="1.85"/>
<ellipse cx="506.17" cy="148.80" rx="2.4" ry="1.85"/>
<ellipse cx="508.90" cy="148.80" rx="2.4" ry="1.85"/>
<ellipse cx="533.60" cy="148.80" rx="2.4" ry="1.85"/>
<ellipse cx="534.70" cy="148.80" rx="2.4" ry="1.85"/>
<ellipse cx="548.30" cy="148.80" rx="2.50" ry="1.85"/>
<ellipse cx="562.95" cy="148.80" rx="2.55" ry="1.85"/>
<ellipse cx="568.35" cy="148.80" rx="2.35" ry="1.85"/>
<ellipse cx="582.60" cy="148.80" rx="2.4" ry="1.85"/>
<ellipse cx="585.50" cy="148.80" rx="2.4" ry="1.85"/>
<ellipse cx="603.45" cy="148.80" rx="2.55" ry="1.85"/>
<ellipse cx="619.90" cy="148.80" rx="2.10" ry="1.85"/>
<ellipse cx="635.20" cy="148.80" rx="2.4" ry="1.85"/>
<ellipse cx="636.50" cy="148.80" rx="2.4" ry="1.85"/>
<ellipse cx="159.00" cy="161.98" rx="2.4" ry="1.85"/>
<ellipse cx="161.35" cy="161.98" rx="2.4" ry="1.85"/>
<ellipse cx="163.70" cy="161.98" rx="2.4" ry="1.85"/>
<ellipse cx="361.75" cy="161.98" rx="2.55" ry="1.85"/>
<ellipse cx="188.70" cy="168.57" rx="2.4" ry="1.85"/>
<ellipse cx="190.60" cy="168.57" rx="2.4" ry="1.85"/>
<ellipse cx="196.30" cy="168.57" rx="2.30" ry="1.85"/>
<ellipse cx="211.00" cy="168.57" rx="2.30" ry="1.85"/>
<ellipse cx="219.80" cy="168.57" rx="2.4" ry="1.85"/>
<ellipse cx="222.70" cy="168.57" rx="2.4" ry="1.85"/>
<ellipse cx="240.95" cy="168.57" rx="2.10" ry="1.85"/>
<ellipse cx="245.55" cy="168.57" rx="2.10" ry="1.85"/>
<ellipse cx="256.25" cy="168.57" rx="2.15" ry="1.85"/>
<ellipse cx="263.65" cy="168.57" rx="2.15" ry="1.85"/>
<ellipse cx="269.70" cy="168.57" rx="2.50" ry="1.85"/>
<ellipse cx="297.90" cy="168.57" rx="2.4" ry="1.85"/>
<ellipse cx="299.70" cy="168.57" rx="2.4" ry="1.85"/>
<ellipse cx="323.20" cy="168.57" rx="2.40" ry="1.85"/>
<ellipse cx="362.80" cy="168.57" rx="2.50" ry="1.85"/>
<ellipse cx="378.55" cy="168.57" rx="2.15" ry="1.85"/>
<ellipse cx="388.45" cy="168.57" rx="2.15" ry="1.85"/>
<ellipse cx="397.30" cy="168.57" rx="2.4" ry="1.85"/>
<ellipse cx="399.73" cy="168.57" rx="2.4" ry="1.85"/>
<ellipse cx="402.17" cy="168.57" rx="2.4" ry="1.85"/>
<ellipse cx="404.60" cy="168.57" rx="2.4" ry="1.85"/>
<ellipse cx="412.10" cy="168.57" rx="2.30" ry="1.85"/>
<ellipse cx="425.25" cy="168.57" rx="2.15" ry="1.85"/>
<ellipse cx="443.10" cy="168.57" rx="2.20" ry="1.85"/>
<ellipse cx="449.40" cy="168.57" rx="2.4" ry="1.85"/>
<ellipse cx="453.40" cy="168.57" rx="2.4" ry="1.85"/>
<ellipse cx="460.70" cy="168.57" rx="2.30" ry="1.85"/>
<ellipse cx="469.40" cy="168.57" rx="2.10" ry="1.85"/>
<ellipse cx="477.70" cy="168.57" rx="2.4" ry="1.85"/>
<ellipse cx="480.15" cy="168.57" rx="2.4" ry="1.85"/>
<ellipse cx="482.60" cy="168.57" rx="2.4" ry="1.85"/>
<ellipse cx="512.80" cy="168.57" rx="2.30" ry="1.85"/>
<ellipse cx="606.85" cy="168.57" rx="2.15" ry="1.85"/>
<ellipse cx="611.35" cy="168.57" rx="2.10" ry="1.85"/>
<ellipse cx="647.30" cy="168.57" rx="2.30" ry="1.85"/>
<ellipse cx="197.90" cy="181.75" rx="2.40" ry="1.85"/>
<ellipse cx="244.10" cy="181.75" rx="2.4" ry="1.85"/>
<ellipse cx="246.80" cy="181.75" rx="2.4" ry="1.85"/>
<ellipse cx="249.50" cy="181.75" rx="2.4" ry="1.85"/>
<ellipse cx="260.15" cy="181.75" rx="2.45" ry="1.85"/>
<ellipse cx="273.40" cy="181.75" rx="2.20" ry="1.85"/>
<ellipse cx="280.70" cy="181.75" rx="2.70" ry="1.85"/>
<ellipse cx="303.50" cy="181.75" rx="2.50" ry="1.85"/>
<ellipse cx="319.80" cy="181.75" rx="2.4" ry="1.85"/>
<ellipse cx="320.70" cy="181.75" rx="2.4" ry="1.85"/>
<ellipse cx="336.40" cy="181.75" rx="2.4" ry="1.85"/>
<ellipse cx="338.30" cy="181.75" rx="2.4" ry="1.85"/>
<ellipse cx="352.30" cy="181.75" rx="2.70" ry="1.85"/>
<ellipse cx="378.80" cy="181.75" rx="2.70" ry="1.85"/>
<ellipse cx="384.90" cy="181.75" rx="2.4" ry="1.85"/>
<ellipse cx="385.90" cy="181.75" rx="2.4" ry="1.85"/>
<ellipse cx="407.70" cy="181.75" rx="2.50" ry="1.85"/>
<ellipse cx="417.05" cy="181.75" rx="2.65" ry="1.85"/>
<ellipse cx="428.60" cy="181.75" rx="2.40" ry="1.85"/>
<ellipse cx="434.05" cy="181.75" rx="2.55" ry="1.85"/>
<ellipse cx="445.80" cy="181.75" rx="2.30" ry="1.85"/>
<ellipse cx="476.65" cy="181.75" rx="2.45" ry="1.85"/>
<ellipse cx="498.50" cy="181.75" rx="2.50" ry="1.85"/>
<ellipse cx="523.75" cy="181.75" rx="2.45" ry="1.85"/>
<ellipse cx="541.75" cy="181.75" rx="2.55" ry="1.85"/>
<ellipse cx="574.10" cy="181.75" rx="2.30" ry="1.85"/>
<ellipse cx="628.55" cy="181.75" rx="2.25" ry="1.85"/>
<ellipse cx="648.70" cy="118.10" rx="2.4" ry="1.85"/>
<ellipse cx="649.50" cy="118.10" rx="2.4" ry="1.85"/>
<ellipse cx="656.70" cy="118.10" rx="2.4" ry="1.85"/>
<ellipse cx="659.07" cy="118.10" rx="2.4" ry="1.85"/>
<ellipse cx="661.43" cy="118.10" rx="2.4" ry="1.85"/>
<ellipse cx="663.80" cy="118.10" rx="2.4" ry="1.85"/>
<ellipse cx="669.25" cy="118.10" rx="2.55" ry="1.85"/>
<ellipse cx="653.65" cy="125.70" rx="2.15" ry="1.85"/>
<ellipse cx="660.60" cy="125.70" rx="2.4" ry="1.85"/>
<ellipse cx="662.20" cy="125.70" rx="2.4" ry="1.85"/>
<ellipse cx="672.25" cy="125.70" rx="2.35" ry="1.85"/>
<ellipse cx="677.35" cy="133.40" rx="2.35" ry="1.85"/>
<ellipse cx="668.60" cy="140.80" rx="2.4" ry="1.85"/>
<ellipse cx="671.00" cy="140.80" rx="2.4" ry="1.85"/>
<ellipse cx="673.40" cy="140.80" rx="2.4" ry="1.85"/>
<ellipse cx="655.30" cy="148.00" rx="2.60" ry="1.85"/>
<ellipse cx="671.20" cy="148.00" rx="2.60" ry="1.85"/>
<ellipse cx="674.65" cy="163.50" rx="2.35" ry="1.85"/>
<ellipse cx="657.40" cy="170.80" rx="2.4" ry="1.85"/>
<ellipse cx="659.30" cy="170.80" rx="2.4" ry="1.85"/>
<ellipse cx="667.10" cy="170.80" rx="2.10" ry="1.85"/>
<ellipse cx="661.40" cy="178.60" rx="2.4" ry="1.85"/>
<ellipse cx="663.80" cy="178.60" rx="2.4" ry="1.85"/>
<ellipse cx="673.40" cy="178.60" rx="2.4" ry="1.85"/>
<ellipse cx="675.30" cy="178.60" rx="2.4" ry="1.85"/>
<ellipse cx="66.20" cy="188.34" rx="2.4" ry="1.85"/>
<ellipse cx="68.86" cy="188.34" rx="2.4" ry="1.85"/>
<ellipse cx="71.51" cy="188.34" rx="2.4" ry="1.85"/>
<ellipse cx="74.17" cy="188.34" rx="2.4" ry="1.85"/>
<ellipse cx="76.83" cy="188.34" rx="2.4" ry="1.85"/>
<ellipse cx="79.49" cy="188.34" rx="2.4" ry="1.85"/>
<ellipse cx="82.14" cy="188.34" rx="2.4" ry="1.85"/>
<ellipse cx="84.80" cy="188.34" rx="2.4" ry="1.85"/>
<ellipse cx="196.10" cy="188.34" rx="2.4" ry="1.85"/>
<ellipse cx="198.90" cy="188.34" rx="2.4" ry="1.85"/>
<ellipse cx="207.10" cy="188.34" rx="2.4" ry="1.85"/>
<ellipse cx="210.10" cy="188.34" rx="2.4" ry="1.85"/>
<ellipse cx="216.45" cy="188.34" rx="2.10" ry="1.85"/>
<ellipse cx="248.20" cy="188.34" rx="2.4" ry="1.85"/>
<ellipse cx="250.40" cy="188.34" rx="2.4" ry="1.85"/>
<ellipse cx="266.50" cy="188.34" rx="2.4" ry="1.85"/>
<ellipse cx="267.50" cy="188.34" rx="2.4" ry="1.85"/>
<ellipse cx="274.30" cy="188.34" rx="2.4" ry="1.85"/>
<ellipse cx="276.73" cy="188.34" rx="2.4" ry="1.85"/>
<ellipse cx="279.17" cy="188.34" rx="2.4" ry="1.85"/>
<ellipse cx="281.60" cy="188.34" rx="2.4" ry="1.85"/>
<ellipse cx="288.95" cy="188.34" rx="2.45" ry="1.85"/>
<ellipse cx="298.40" cy="188.34" rx="2.4" ry="1.85"/>
<ellipse cx="301.13" cy="188.34" rx="2.4" ry="1.85"/>
<ellipse cx="303.87" cy="188.34" rx="2.4" ry="1.85"/>
<ellipse cx="306.60" cy="188.34" rx="2.4" ry="1.85"/>
<ellipse cx="318.35" cy="188.34" rx="2.45" ry="1.85"/>
<ellipse cx="364.70" cy="188.34" rx="2.4" ry="1.85"/>
<ellipse cx="367.32" cy="188.34" rx="2.4" ry="1.85"/>
<ellipse cx="369.95" cy="188.34" rx="2.4" ry="1.85"/>
<ellipse cx="372.58" cy="188.34" rx="2.4" ry="1.85"/>
<ellipse cx="375.20" cy="188.34" rx="2.4" ry="1.85"/>
<ellipse cx="381.50" cy="188.34" rx="2.4" ry="1.85"/>
<ellipse cx="384.52" cy="188.34" rx="2.4" ry="1.85"/>
<ellipse cx="387.54" cy="188.34" rx="2.4" ry="1.85"/>
<ellipse cx="390.56" cy="188.34" rx="2.4" ry="1.85"/>
<ellipse cx="393.58" cy="188.34" rx="2.4" ry="1.85"/>
<ellipse cx="396.60" cy="188.34" rx="2.4" ry="1.85"/>
<ellipse cx="403.00" cy="188.34" rx="2.4" ry="1.85"/>
<ellipse cx="405.60" cy="188.34" rx="2.4" ry="1.85"/>
<ellipse cx="408.20" cy="188.34" rx="2.4" ry="1.85"/>
<ellipse cx="410.80" cy="188.34" rx="2.4" ry="1.85"/>
<ellipse cx="418.30" cy="188.34" rx="2.4" ry="1.85"/>
<ellipse cx="420.50" cy="188.34" rx="2.4" ry="1.85"/>
<ellipse cx="422.70" cy="188.34" rx="2.4" ry="1.85"/>
<ellipse cx="429.00" cy="188.34" rx="2.4" ry="1.85"/>
<ellipse cx="431.58" cy="188.34" rx="2.4" ry="1.85"/>
<ellipse cx="434.16" cy="188.34" rx="2.4" ry="1.85"/>
<ellipse cx="436.74" cy="188.34" rx="2.4" ry="1.85"/>
<ellipse cx="439.32" cy="188.34" rx="2.4" ry="1.85"/>
<ellipse cx="441.90" cy="188.34" rx="2.4" ry="1.85"/>
<ellipse cx="450.50" cy="188.34" rx="2.4" ry="1.85"/>
<ellipse cx="453.80" cy="188.34" rx="2.4" ry="1.85"/>
<ellipse cx="457.10" cy="188.34" rx="2.4" ry="1.85"/>
<ellipse cx="498.30" cy="188.34" rx="2.30" ry="1.85"/>
<ellipse cx="554.80" cy="188.34" rx="2.4" ry="1.85"/>
<ellipse cx="557.82" cy="188.34" rx="2.4" ry="1.85"/>
<ellipse cx="560.83" cy="188.34" rx="2.4" ry="1.85"/>
<ellipse cx="563.85" cy="188.34" rx="2.4" ry="1.85"/>
<ellipse cx="566.87" cy="188.34" rx="2.4" ry="1.85"/>
<ellipse cx="569.88" cy="188.34" rx="2.4" ry="1.85"/>
<ellipse cx="572.90" cy="188.34" rx="2.4" ry="1.85"/>
<ellipse cx="579.10" cy="188.34" rx="2.30" ry="1.85"/>
<ellipse cx="155.40" cy="201.51" rx="2.4" ry="1.85"/>
<ellipse cx="158.28" cy="201.51" rx="2.4" ry="1.85"/>
<ellipse cx="161.16" cy="201.51" rx="2.4" ry="1.85"/>
<ellipse cx="164.04" cy="201.51" rx="2.4" ry="1.85"/>
<ellipse cx="166.92" cy="201.51" rx="2.4" ry="1.85"/>
<ellipse cx="169.80" cy="201.51" rx="2.4" ry="1.85"/>
<ellipse cx="229.30" cy="201.51" rx="2.10" ry="1.85"/>
<ellipse cx="248.45" cy="201.51" rx="2.35" ry="1.85"/>
<ellipse cx="263.95" cy="201.51" rx="2.45" ry="1.85"/>
<ellipse cx="310.20" cy="201.51" rx="2.30" ry="1.85"/>
<ellipse cx="318.20" cy="201.51" rx="2.30" ry="1.85"/>
<ellipse cx="331.80" cy="201.51" rx="2.4" ry="1.85"/>
<ellipse cx="333.90" cy="201.51" rx="2.4" ry="1.85"/>
<ellipse cx="336.00" cy="201.51" rx="2.4" ry="1.85"/>
<ellipse cx="343.60" cy="201.51" rx="2.4" ry="1.85"/>
<ellipse cx="346.18" cy="201.51" rx="2.4" ry="1.85"/>
<ellipse cx="348.77" cy="201.51" rx="2.4" ry="1.85"/>
<ellipse cx="351.35" cy="201.51" rx="2.4" ry="1.85"/>
<ellipse cx="353.93" cy="201.51" rx="2.4" ry="1.85"/>
<ellipse cx="356.52" cy="201.51" rx="2.4" ry="1.85"/>
<ellipse cx="359.10" cy="201.51" rx="2.4" ry="1.85"/>
<ellipse cx="366.20" cy="201.51" rx="2.4" ry="1.85"/>
<ellipse cx="368.93" cy="201.51" rx="2.4" ry="1.85"/>
<ellipse cx="371.67" cy="201.51" rx="2.4" ry="1.85"/>
<ellipse cx="374.40" cy="201.51" rx="2.4" ry="1.85"/>
<ellipse cx="397.15" cy="201.51" rx="2.25" ry="1.85"/>
<ellipse cx="402.75" cy="201.51" rx="2.15" ry="1.85"/>
<ellipse cx="412.90" cy="201.51" rx="2.4" ry="1.85"/>
<ellipse cx="415.23" cy="201.51" rx="2.4" ry="1.85"/>
<ellipse cx="417.57" cy="201.51" rx="2.4" ry="1.85"/>
<ellipse cx="419.90" cy="201.51" rx="2.4" ry="1.85"/>
<ellipse cx="429.15" cy="201.51" rx="2.10" ry="1.85"/>
<ellipse cx="486.65" cy="201.51" rx="2.15" ry="1.85"/>
<ellipse cx="576.20" cy="201.51" rx="2.4" ry="1.85"/>
<ellipse cx="578.93" cy="201.51" rx="2.4" ry="1.85"/>
<ellipse cx="581.67" cy="201.51" rx="2.4" ry="1.85"/>
<ellipse cx="584.40" cy="201.51" rx="2.4" ry="1.85"/>
<ellipse cx="653.25" cy="201.51" rx="2.45" ry="1.85"/>
<ellipse cx="664.20" cy="201.51" rx="2.30" ry="1.85"/>
<ellipse cx="73.00" cy="214.69" rx="2.30" ry="1.85"/>
<ellipse cx="91.50" cy="214.69" rx="2.4" ry="1.85"/>
<ellipse cx="92.50" cy="214.69" rx="2.4" ry="1.85"/>
<ellipse cx="186.40" cy="214.69" rx="2.4" ry="1.85"/>
<ellipse cx="188.95" cy="214.69" rx="2.4" ry="1.85"/>
<ellipse cx="191.50" cy="214.69" rx="2.4" ry="1.85"/>
<ellipse cx="194.05" cy="214.69" rx="2.4" ry="1.85"/>
<ellipse cx="196.60" cy="214.69" rx="2.4" ry="1.85"/>
<ellipse cx="208.40" cy="214.69" rx="2.4" ry="1.85"/>
<ellipse cx="210.97" cy="214.69" rx="2.4" ry="1.85"/>
<ellipse cx="213.53" cy="214.69" rx="2.4" ry="1.85"/>
<ellipse cx="216.10" cy="214.69" rx="2.4" ry="1.85"/>
<ellipse cx="232.10" cy="214.69" rx="2.4" ry="1.85"/>
<ellipse cx="233.10" cy="214.69" rx="2.4" ry="1.85"/>
<ellipse cx="263.10" cy="214.69" rx="2.4" ry="1.85"/>
<ellipse cx="263.70" cy="214.69" rx="2.4" ry="1.85"/>
<ellipse cx="289.85" cy="214.69" rx="2.65" ry="1.85"/>
<ellipse cx="295.40" cy="214.69" rx="2.4" ry="1.85"/>
<ellipse cx="296.30" cy="214.69" rx="2.4" ry="1.85"/>
<ellipse cx="312.90" cy="214.69" rx="2.4" ry="1.85"/>
<ellipse cx="313.80" cy="214.69" rx="2.4" ry="1.85"/>
<ellipse cx="327.50" cy="214.69" rx="2.4" ry="1.85"/>
<ellipse cx="330.20" cy="214.69" rx="2.4" ry="1.85"/>
<ellipse cx="332.90" cy="214.69" rx="2.4" ry="1.85"/>
<ellipse cx="335.60" cy="214.69" rx="2.4" ry="1.85"/>
<ellipse cx="338.30" cy="214.69" rx="2.4" ry="1.85"/>
<ellipse cx="348.30" cy="214.69" rx="2.50" ry="1.85"/>
<ellipse cx="370.05" cy="214.69" rx="2.45" ry="1.85"/>
<ellipse cx="388.90" cy="214.69" rx="2.4" ry="1.85"/>
<ellipse cx="391.25" cy="214.69" rx="2.4" ry="1.85"/>
<ellipse cx="393.60" cy="214.69" rx="2.4" ry="1.85"/>
<ellipse cx="405.90" cy="214.69" rx="2.30" ry="1.85"/>
<ellipse cx="465.40" cy="214.69" rx="2.4" ry="1.85"/>
<ellipse cx="468.23" cy="214.69" rx="2.4" ry="1.85"/>
<ellipse cx="471.05" cy="214.69" rx="2.4" ry="1.85"/>
<ellipse cx="473.88" cy="214.69" rx="2.4" ry="1.85"/>
<ellipse cx="476.70" cy="214.69" rx="2.4" ry="1.85"/>
<ellipse cx="487.00" cy="214.69" rx="2.50" ry="1.85"/>
<ellipse cx="495.00" cy="214.69" rx="2.4" ry="1.85"/>
<ellipse cx="497.40" cy="214.69" rx="2.4" ry="1.85"/>
<ellipse cx="517.05" cy="214.69" rx="2.65" ry="1.85"/>
<ellipse cx="523.20" cy="214.69" rx="2.4" ry="1.85"/>
<ellipse cx="524.20" cy="214.69" rx="2.4" ry="1.85"/>
<ellipse cx="529.55" cy="214.69" rx="2.45" ry="1.85"/>
<ellipse cx="580.85" cy="214.69" rx="2.45" ry="1.85"/>
<ellipse cx="594.65" cy="214.69" rx="2.45" ry="1.85"/>
<ellipse cx="631.00" cy="214.69" rx="2.50" ry="1.85"/>
<ellipse cx="127.50" cy="221.28" rx="2.4" ry="1.85"/>
<ellipse cx="130.10" cy="221.28" rx="2.4" ry="1.85"/>
<ellipse cx="132.70" cy="221.28" rx="2.4" ry="1.85"/>
<ellipse cx="205.20" cy="221.28" rx="2.30" ry="1.85"/>
<ellipse cx="211.40" cy="221.28" rx="2.4" ry="1.85"/>
<ellipse cx="214.05" cy="221.28" rx="2.4" ry="1.85"/>
<ellipse cx="216.70" cy="221.28" rx="2.4" ry="1.85"/>
<ellipse cx="219.35" cy="221.28" rx="2.4" ry="1.85"/>
<ellipse cx="222.00" cy="221.28" rx="2.4" ry="1.85"/>
<ellipse cx="224.65" cy="221.28" rx="2.4" ry="1.85"/>
<ellipse cx="227.30" cy="221.28" rx="2.4" ry="1.85"/>
<ellipse cx="237.90" cy="221.28" rx="2.4" ry="1.85"/>
<ellipse cx="241.40" cy="221.28" rx="2.4" ry="1.85"/>
<ellipse cx="253.30" cy="221.28" rx="2.50" ry="1.85"/>
<ellipse cx="260.80" cy="221.28" rx="2.4" ry="1.85"/>
<ellipse cx="264.15" cy="221.28" rx="2.4" ry="1.85"/>
<ellipse cx="267.50" cy="221.28" rx="2.4" ry="1.85"/>
<ellipse cx="280.00" cy="221.28" rx="2.4" ry="1.85"/>
<ellipse cx="282.20" cy="221.28" rx="2.4" ry="1.85"/>
<ellipse cx="284.40" cy="221.28" rx="2.4" ry="1.85"/>
<ellipse cx="322.60" cy="221.28" rx="2.4" ry="1.85"/>
<ellipse cx="325.03" cy="221.28" rx="2.4" ry="1.85"/>
<ellipse cx="327.47" cy="221.28" rx="2.4" ry="1.85"/>
<ellipse cx="329.90" cy="221.28" rx="2.4" ry="1.85"/>
<ellipse cx="348.70" cy="221.28" rx="2.4" ry="1.85"/>
<ellipse cx="351.40" cy="221.28" rx="2.4" ry="1.85"/>
<ellipse cx="354.10" cy="221.28" rx="2.4" ry="1.85"/>
<ellipse cx="356.80" cy="221.28" rx="2.4" ry="1.85"/>
<ellipse cx="359.50" cy="221.28" rx="2.4" ry="1.85"/>
<ellipse cx="362.20" cy="221.28" rx="2.4" ry="1.85"/>
<ellipse cx="364.90" cy="221.28" rx="2.4" ry="1.85"/>
<ellipse cx="414.95" cy="221.28" rx="2.45" ry="1.85"/>
<ellipse cx="463.90" cy="221.28" rx="2.4" ry="1.85"/>
<ellipse cx="465.20" cy="221.28" rx="2.4" ry="1.85"/>
<ellipse cx="477.70" cy="221.28" rx="2.4" ry="1.85"/>
<ellipse cx="479.00" cy="221.28" rx="2.4" ry="1.85"/>
<ellipse cx="486.40" cy="221.28" rx="2.4" ry="1.85"/>
<ellipse cx="487.50" cy="221.28" rx="2.4" ry="1.85"/>
<ellipse cx="514.95" cy="221.28" rx="2.45" ry="1.85"/>
<ellipse cx="551.60" cy="221.28" rx="2.30" ry="1.85"/>
<ellipse cx="566.40" cy="221.28" rx="2.30" ry="1.85"/>
<ellipse cx="623.70" cy="221.28" rx="2.4" ry="1.85"/>
<ellipse cx="624.50" cy="221.28" rx="2.4" ry="1.85"/>
<ellipse cx="185.80" cy="194.93" rx="2.10" ry="1.85"/>
<ellipse cx="191.90" cy="194.93" rx="2.4" ry="1.85"/>
<ellipse cx="194.54" cy="194.93" rx="2.4" ry="1.85"/>
<ellipse cx="197.19" cy="194.93" rx="2.4" ry="1.85"/>
<ellipse cx="199.83" cy="194.93" rx="2.4" ry="1.85"/>
<ellipse cx="202.47" cy="194.93" rx="2.4" ry="1.85"/>
<ellipse cx="205.11" cy="194.93" rx="2.4" ry="1.85"/>
<ellipse cx="207.76" cy="194.93" rx="2.4" ry="1.85"/>
<ellipse cx="210.40" cy="194.93" rx="2.4" ry="1.85"/>
<ellipse cx="228.60" cy="194.93" rx="2.4" ry="1.85"/>
<ellipse cx="231.13" cy="194.93" rx="2.4" ry="1.85"/>
<ellipse cx="233.67" cy="194.93" rx="2.4" ry="1.85"/>
<ellipse cx="236.20" cy="194.93" rx="2.4" ry="1.85"/>
<ellipse cx="246.20" cy="194.93" rx="2.10" ry="1.85"/>
<ellipse cx="255.10" cy="194.93" rx="2.4" ry="1.85"/>
<ellipse cx="258.00" cy="194.93" rx="2.4" ry="1.85"/>
<ellipse cx="278.00" cy="194.93" rx="2.4" ry="1.85"/>
<ellipse cx="279.80" cy="194.93" rx="2.4" ry="1.85"/>
<ellipse cx="288.95" cy="194.93" rx="2.45" ry="1.85"/>
<ellipse cx="298.00" cy="194.93" rx="2.30" ry="1.85"/>
<ellipse cx="415.30" cy="194.93" rx="2.10" ry="1.85"/>
<ellipse cx="246.05" cy="208.10" rx="2.10" ry="1.85"/>
<ellipse cx="256.10" cy="208.10" rx="2.30" ry="1.85"/>
<ellipse cx="269.90" cy="208.10" rx="2.30" ry="1.85"/>
<ellipse cx="293.00" cy="208.10" rx="2.4" ry="1.85"/>
<ellipse cx="295.45" cy="208.10" rx="2.4" ry="1.85"/>
<ellipse cx="297.90" cy="208.10" rx="2.4" ry="1.85"/>
<ellipse cx="317.20" cy="208.10" rx="2.50" ry="1.85"/>
<ellipse cx="365.95" cy="208.10" rx="2.15" ry="1.85"/>
<ellipse cx="545.10" cy="208.10" rx="2.4" ry="1.85"/>
<ellipse cx="547.20" cy="208.10" rx="2.4" ry="1.85"/>
<ellipse cx="562.95" cy="208.10" rx="2.55" ry="1.85"/>
<ellipse cx="568.35" cy="208.10" rx="2.35" ry="1.85"/>
<ellipse cx="625.20" cy="208.10" rx="2.4" ry="1.85"/>
<ellipse cx="625.80" cy="208.10" rx="2.4" ry="1.85"/>
<ellipse cx="638.65" cy="208.10" rx="2.55" ry="1.85"/>
<ellipse cx="188.15" cy="227.87" rx="2.45" ry="1.85"/>
<ellipse cx="197.60" cy="227.87" rx="2.4" ry="1.85"/>
<ellipse cx="200.30" cy="227.87" rx="2.4" ry="1.85"/>
<ellipse cx="203.00" cy="227.87" rx="2.4" ry="1.85"/>
<ellipse cx="205.70" cy="227.87" rx="2.4" ry="1.85"/>
<ellipse cx="208.40" cy="227.87" rx="2.4" ry="1.85"/>
<ellipse cx="211.10" cy="227.87" rx="2.4" ry="1.85"/>
<ellipse cx="213.80" cy="227.87" rx="2.4" ry="1.85"/>
<ellipse cx="227.20" cy="227.87" rx="2.4" ry="1.85"/>
<ellipse cx="229.60" cy="227.87" rx="2.4" ry="1.85"/>
<ellipse cx="237.75" cy="227.87" rx="2.10" ry="1.85"/>
<ellipse cx="244.80" cy="227.87" rx="2.10" ry="1.85"/>
<ellipse cx="346.95" cy="227.87" rx="2.65" ry="1.85"/>
<ellipse cx="210.00" cy="234.46" rx="2.10" ry="1.85"/>
<ellipse cx="269.00" cy="234.46" rx="2.4" ry="1.85"/>
<ellipse cx="271.70" cy="234.46" rx="2.4" ry="1.85"/>
<ellipse cx="274.40" cy="234.46" rx="2.4" ry="1.85"/>
<ellipse cx="277.10" cy="234.46" rx="2.4" ry="1.85"/>
<ellipse cx="279.80" cy="234.46" rx="2.4" ry="1.85"/>
<ellipse cx="294.05" cy="234.46" rx="2.65" ry="1.85"/>
<ellipse cx="390.10" cy="234.46" rx="2.10" ry="1.85"/>
<ellipse cx="414.00" cy="234.46" rx="2.4" ry="1.85"/>
<ellipse cx="417.17" cy="234.46" rx="2.4" ry="1.85"/>
<ellipse cx="420.33" cy="234.46" rx="2.4" ry="1.85"/>
<ellipse cx="423.50" cy="234.46" rx="2.4" ry="1.85"/>
<ellipse cx="473.40" cy="234.46" rx="2.40" ry="1.85"/>
<ellipse cx="488.00" cy="234.46" rx="2.4" ry="1.85"/>
<ellipse cx="489.30" cy="234.46" rx="2.4" ry="1.85"/>
<ellipse cx="538.40" cy="234.46" rx="2.30" ry="1.85"/>
<ellipse cx="604.40" cy="234.46" rx="2.30" ry="1.85"/>
<ellipse cx="212.50" cy="241.05" rx="2.4" ry="1.85"/>
<ellipse cx="215.00" cy="241.05" rx="2.4" ry="1.85"/>
<ellipse cx="268.50" cy="241.05" rx="2.4" ry="1.85"/>
<ellipse cx="272.40" cy="241.05" rx="2.4" ry="1.85"/>
<ellipse cx="285.40" cy="241.05" rx="2.4" ry="1.85"/>
<ellipse cx="287.60" cy="241.05" rx="2.4" ry="1.85"/>
<ellipse cx="289.80" cy="241.05" rx="2.4" ry="1.85"/>
<ellipse cx="385.40" cy="241.05" rx="2.4" ry="1.85"/>
<ellipse cx="387.90" cy="241.05" rx="2.4" ry="1.85"/>
<ellipse cx="390.40" cy="241.05" rx="2.4" ry="1.85"/>
<ellipse cx="392.90" cy="241.05" rx="2.4" ry="1.85"/>
<ellipse cx="395.40" cy="241.05" rx="2.4" ry="1.85"/>
<ellipse cx="402.20" cy="241.05" rx="2.4" ry="1.85"/>
<ellipse cx="405.40" cy="241.05" rx="2.4" ry="1.85"/>
<ellipse cx="408.60" cy="241.05" rx="2.4" ry="1.85"/>
<ellipse cx="414.00" cy="241.05" rx="2.20" ry="1.85"/>
<ellipse cx="422.80" cy="241.05" rx="2.30" ry="1.85"/>
<ellipse cx="429.95" cy="241.05" rx="2.55" ry="1.85"/>
<ellipse cx="446.95" cy="241.05" rx="2.35" ry="1.85"/>
<ellipse cx="469.50" cy="241.05" rx="2.30" ry="1.85"/>
<ellipse cx="487.50" cy="241.05" rx="2.70" ry="1.85"/>
<ellipse cx="538.90" cy="241.05" rx="2.30" ry="1.85"/>
<ellipse cx="568.65" cy="241.05" rx="2.55" ry="1.85"/>
<ellipse cx="628.40" cy="241.05" rx="2.50" ry="1.85"/>
<ellipse cx="188.40" cy="254.23" rx="2.4" ry="1.85"/>
<ellipse cx="191.67" cy="254.23" rx="2.4" ry="1.85"/>
<ellipse cx="194.93" cy="254.23" rx="2.4" ry="1.85"/>
<ellipse cx="198.20" cy="254.23" rx="2.4" ry="1.85"/>
<ellipse cx="210.60" cy="254.23" rx="2.4" ry="1.85"/>
<ellipse cx="213.25" cy="254.23" rx="2.4" ry="1.85"/>
<ellipse cx="215.90" cy="254.23" rx="2.4" ry="1.85"/>
<ellipse cx="218.55" cy="254.23" rx="2.4" ry="1.85"/>
<ellipse cx="221.20" cy="254.23" rx="2.4" ry="1.85"/>
<ellipse cx="658.30" cy="254.23" rx="2.4" ry="1.85"/>
<ellipse cx="661.45" cy="254.23" rx="2.4" ry="1.85"/>
<ellipse cx="664.60" cy="254.23" rx="2.4" ry="1.85"/>
<ellipse cx="331.30" cy="247.64" rx="2.4" ry="1.85"/>
<ellipse cx="334.12" cy="247.64" rx="2.4" ry="1.85"/>
<ellipse cx="336.95" cy="247.64" rx="2.4" ry="1.85"/>
<ellipse cx="339.77" cy="247.64" rx="2.4" ry="1.85"/>
<ellipse cx="342.59" cy="247.64" rx="2.4" ry="1.85"/>
<ellipse cx="345.42" cy="247.64" rx="2.4" ry="1.85"/>
<ellipse cx="348.24" cy="247.64" rx="2.4" ry="1.85"/>
<ellipse cx="351.06" cy="247.64" rx="2.4" ry="1.85"/>
<ellipse cx="353.88" cy="247.64" rx="2.4" ry="1.85"/>
<ellipse cx="356.71" cy="247.64" rx="2.4" ry="1.85"/>
<ellipse cx="359.53" cy="247.64" rx="2.4" ry="1.85"/>
<ellipse cx="362.35" cy="247.64" rx="2.4" ry="1.85"/>
<ellipse cx="365.18" cy="247.64" rx="2.4" ry="1.85"/>
<ellipse cx="368.00" cy="247.64" rx="2.4" ry="1.85"/>
<ellipse cx="494.25" cy="247.64" rx="2.45" ry="1.85"/>
<ellipse cx="513.90" cy="247.64" rx="2.30" ry="1.85"/>
<ellipse cx="558.20" cy="247.64" rx="2.4" ry="1.85"/>
<ellipse cx="560.40" cy="247.64" rx="2.4" ry="1.85"/>
<ellipse cx="562.60" cy="247.64" rx="2.4" ry="1.85"/>
<ellipse cx="572.00" cy="247.64" rx="2.4" ry="1.85"/>
<ellipse cx="574.90" cy="247.64" rx="2.4" ry="1.85"/>
<ellipse cx="577.80" cy="247.64" rx="2.4" ry="1.85"/>
<ellipse cx="600.75" cy="247.64" rx="2.45" ry="1.85"/>
<ellipse cx="607.30" cy="247.64" rx="2.4" ry="1.85"/>
<ellipse cx="610.80" cy="247.64" rx="2.4" ry="1.85"/>
<ellipse cx="616.70" cy="247.64" rx="2.30" ry="1.85"/>
<ellipse cx="670.60" cy="193.60" rx="2.50" ry="1.85"/>
<ellipse cx="658.10" cy="246.50" rx="2.70" ry="1.85"/></g>
<text font-family="Liberation Sans, sans-serif" font-size="100" font-weight="bold" fill="#000" stroke="#000" stroke-width="4" transform="matrix(0.13748,0,0,0.15918,11.80,329.84)" xml:space="preserve">b</text>
<path d="M66.6,326.9 H72.4 V493.5 H312" fill="none" stroke="#222" stroke-width="1.4"/>
<line x1="66.6" y1="368.8" x2="72.4" y2="368.8" stroke="#222" stroke-width="1.2"/>
<line x1="66.6" y1="410.5" x2="72.4" y2="410.5" stroke="#222" stroke-width="1.2"/>
<line x1="66.6" y1="452.1" x2="72.4" y2="452.1" stroke="#222" stroke-width="1.2"/>
<text font-family="Liberation Sans, sans-serif" font-size="100" fill="#000"  transform="matrix(0.11640,0,0,0.12571,36.90,329.87)" xml:space="preserve">2000</text>
<text font-family="Liberation Sans, sans-serif" font-size="100" fill="#000"  transform="matrix(0.11146,0,0,0.12571,38.00,371.87)" xml:space="preserve">1500</text>
<text font-family="Liberation Sans, sans-serif" font-size="100" fill="#000"  transform="matrix(0.11461,0,0,0.12571,37.30,413.87)" xml:space="preserve">1000</text>
<text font-family="Liberation Sans, sans-serif" font-size="100" fill="#000"  transform="matrix(0.11451,0,0,0.12571,43.70,454.87)" xml:space="preserve">500</text>
<line x1="72.5" y1="493.5" x2="72.5" y2="498.3" stroke="#222" stroke-width="1.2"/>
<text font-family="Liberation Sans, sans-serif" font-size="100" fill="#000"  transform="matrix(0.11331,0,0,0.12147,69.20,508.98)" xml:space="preserve">0</text>
<line x1="120.4" y1="493.5" x2="120.4" y2="498.3" stroke="#222" stroke-width="1.2"/>
<text font-family="Liberation Sans, sans-serif" font-size="100" fill="#000"  transform="matrix(0.11583,0,0,0.12147,112.40,508.98)" xml:space="preserve">0.5</text>
<line x1="168.4" y1="493.5" x2="168.4" y2="498.3" stroke="#222" stroke-width="1.2"/>
<text font-family="Liberation Sans, sans-serif" font-size="100" fill="#000"  transform="matrix(0.10935,0,0,0.12147,160.80,508.98)" xml:space="preserve">1.0</text>
<line x1="216.3" y1="493.5" x2="216.3" y2="498.3" stroke="#222" stroke-width="1.2"/>
<text font-family="Liberation Sans, sans-serif" font-size="100" fill="#000"  transform="matrix(0.11655,0,0,0.12321,209.60,508.98)" xml:space="preserve">1.5</text>
<line x1="264.1" y1="493.5" x2="264.1" y2="498.3" stroke="#222" stroke-width="1.2"/>
<text font-family="Liberation Sans, sans-serif" font-size="100" fill="#000"  transform="matrix(0.11942,0,0,0.12147,256.30,508.98)" xml:space="preserve">2.0</text>
<line x1="312" y1="493.5" x2="312" y2="498.3" stroke="#222" stroke-width="1.2"/>
<text font-family="Liberation Sans, sans-serif" font-size="100" fill="#000"  transform="matrix(0.11942,0,0,0.12147,303.50,508.98)" xml:space="preserve">2.5</text>
<text font-family="Liberation Sans, sans-serif" font-size="100" fill="#000"  transform="matrix(0.12236,0,0,0.11695,166.00,527.08)" xml:space="preserve">Time (min)</text>
<text font-family="Liberation Sans, sans-serif" font-size="100" fill="#000" transform="translate(14.34,454.80) rotate(-90) scale(0.12962,0.12326)" xml:space="preserve">Cumulative activity</text>
<text font-family="Liberation Sans, sans-serif" font-size="100" fill="#000" transform="translate(29.28,443.30) rotate(-90) scale(0.12810,0.11695)" xml:space="preserve">(active frames)</text>
<text font-family="Liberation Sans, sans-serif" font-size="100" font-style="italic" fill="#000"  transform="matrix(0.10536,0,0,0.12381,104.70,357.68)" xml:space="preserve">Control</text>
<text font-family="Liberation Sans, sans-serif" font-size="100" font-style="italic" fill="#000"  transform="matrix(0.10492,0,0,0.12712,111.30,374.27)" xml:space="preserve">SKF</text>
<text font-family="Liberation Sans, sans-serif" font-size="100" font-style="italic" fill="#000"  transform="matrix(0.10392,0,0,0.13136,114.40,390.87)" xml:space="preserve">SKF</text>
<text font-family="Liberation Sans, sans-serif" font-size="100" font-style="italic" fill="#000"  transform="matrix(0.10437,0,0,0.11897,91.10,405.03)" xml:space="preserve">+ Nicardipine</text>
<line x1="149.2" y1="353.1" x2="180" y2="353.1" stroke="#111" stroke-width="2"/>
<line x1="149.2" y1="370.1" x2="180" y2="370.1" stroke="#aaa" stroke-width="1.6"/>
<line x1="149.2" y1="389.6" x2="180" y2="389.6" stroke="#777" stroke-width="2"/>
<polyline points="72.6,493.6 79.5,490.5 85.8,487.8 91.0,484.7 95.2,481.0 98.4,479.7 102.6,478.9 106.8,477.8 111.0,476.3 114.1,472.1 116.2,471.0 120.5,468.4 125.7,465.4 131.0,463.1 135.2,461.2 140.0,458.9 145.5,455.5 156.0,452.3 166.5,448.6 170.7,447.1 175.0,442.9 179.1,440.0 183.4,438.6 187.6,436.0 191.8,432.9 196.0,428.7 200.2,426.4 204.2,425.7 209.9,420.1 215.5,420.1 219.7,415.8 225.4,409.5 231.0,405.7 235.2,401.8 238.7,396.8 242.3,392.6 246.5,387.0 250.7,383.5 253.6,378.3 258.0,373.8 262.5,372.4 267.8,371.2 274.9,369.4 282.1,368.1 285.6,364.0 291.0,359.6 296.3,353.9 301.7,352.1 307.0,350.3 312.3,347.5" fill="none" stroke="#aaa" stroke-width="1.6"/>
<polyline points="72.6,493.6 80.5,492.0 85.8,489.4 91.0,486.2 95.2,483.1 100.5,480.5 106.8,478.4 112.0,476.3 116.2,474.7 120.5,473.1 126.8,471.5 133.1,469.4 135.0,467.6 140.3,465.5 145.5,461.2 150.8,459.7 156.0,458.6 161.3,457.0 166.5,454.9 169.7,450.7 172.8,447.1 177.0,442.3 181.2,439.7 185.5,438.1 189.7,436.0 194.9,432.3 200.2,430.2 205.6,428.5 215.5,428.2 221.1,424.0 228.2,419.4 233.8,414.2 238.0,411.6 242.3,409.9 246.5,407.4 252.1,404.6 255.3,401.5 260.7,400.6 267.8,396.6 273.2,393.4 277.6,390.4 283.8,390.4 289.2,386.7 296.3,384.9 303.4,384.2 308.8,382.8 312.3,381.3" fill="none" stroke="#777" stroke-width="1.8"/>
<polyline points="72.6,493.6 80.5,493.1 85.8,491.5 91.0,490.5 96.3,488.9 101.5,486.8 106.8,483.6 110.5,481.5 113.1,477.8 116.2,472.6 119.4,470.0 123.6,467.1 128.9,464.4 134.1,462.1 140.3,459.7 145.5,457.6 150.8,456.5 156.0,455.0 161.3,453.4 166.5,451.3 170.7,450.2 177.0,450.2 182.3,449.5 187.6,448.4 192.8,447.1 198.1,445.0 201.2,443.4 207.0,443.3 214.1,441.2 219.7,439.1 225.4,438.1 232.4,434.2 240.1,429.5 249.3,429.6 258.9,428.7 267.8,427.8 276.7,427.3 282.1,426.4 287.4,424.1 292.8,421.6 296.3,420.2 301.7,419.6 307.0,418.4 312.3,418.0" fill="none" stroke="#111" stroke-width="1.8"/>
<text font-family="Liberation Sans, sans-serif" font-size="100" font-weight="bold" fill="#000" stroke="#000" stroke-width="4" transform="matrix(0.14388,0,0,0.15146,363.00,333.85)" xml:space="preserve">c</text>
<path d="M416.1,328.5 H422.7 V496 H416.1" fill="none" stroke="#222" stroke-width="1.4"/>
<line x1="416.1" y1="384.8" x2="422.7" y2="384.8" stroke="#222" stroke-width="1.2"/>
<line x1="416.1" y1="440.4" x2="422.7" y2="440.4" stroke="#222" stroke-width="1.2"/>
<text font-family="Liberation Sans, sans-serif" font-size="100" fill="#000"  transform="matrix(0.11665,0,0,0.12853,390.80,332.87)" xml:space="preserve">0.08</text>
<text font-family="Liberation Sans, sans-serif" font-size="100" fill="#000"  transform="matrix(0.11922,0,0,0.12712,390.40,388.77)" xml:space="preserve">0.06</text>
<text font-family="Liberation Sans, sans-serif" font-size="100" fill="#000"  transform="matrix(0.11922,0,0,0.12712,390.40,444.57)" xml:space="preserve">0.04</text>
<text font-family="Liberation Sans, sans-serif" font-size="100" fill="#000"  transform="matrix(0.11922,0,0,0.12571,390.40,500.27)" xml:space="preserve">0.02</text>
<text font-family="Liberation Sans, sans-serif" font-size="100" fill="#000" transform="translate(368.57,455.10) rotate(-90) scale(0.12894,0.11683)" xml:space="preserve">Cellular activity</text>
<text font-family="Liberation Sans, sans-serif" font-size="100" fill="#000" transform="translate(384.27,463.50) rotate(-90) scale(0.12583,0.12517)" xml:space="preserve">active/total frames</text>
<line x1="463" y1="324.4" x2="528.2" y2="324.4" stroke="#222" stroke-width="1.3"/>
<line x1="579.3" y1="323.7" x2="644.5" y2="323.7" stroke="#222" stroke-width="1.3"/>
<g stroke="#333" stroke-width="0.95"><line x1="484.3" y1="335.2" x2="489.7" y2="335.2"/><line x1="485.6" y1="332.4" x2="488.4" y2="338.0"/><line x1="488.4" y1="332.4" x2="485.6" y2="338.0"/></g>
<g stroke="#333" stroke-width="0.95"><line x1="490.8" y1="335.2" x2="496.2" y2="335.2"/><line x1="492.1" y1="332.4" x2="494.9" y2="338.0"/><line x1="494.9" y1="332.4" x2="492.1" y2="338.0"/></g>
<g stroke="#333" stroke-width="0.95"><line x1="497.2" y1="335.2" x2="502.59999999999997" y2="335.2"/><line x1="498.5" y1="332.4" x2="501.29999999999995" y2="338.0"/><line x1="501.29999999999995" y1="332.4" x2="498.5" y2="338.0"/></g>
<g stroke="#333" stroke-width="0.95"><line x1="606.5" y1="336.0" x2="611.9000000000001" y2="336.0"/><line x1="607.8000000000001" y1="333.2" x2="610.6" y2="338.8"/><line x1="610.6" y1="333.2" x2="607.8000000000001" y2="338.8"/></g>
<g stroke="#333" stroke-width="0.95"><line x1="613.3" y1="336.0" x2="618.7" y2="336.0"/><line x1="614.6" y1="333.2" x2="617.4" y2="338.8"/><line x1="617.4" y1="333.2" x2="614.6" y2="338.8"/></g>
<polyline points="459.3,471.8 554,339.8 649,408.5" fill="none" stroke="#111" stroke-width="1.5"/>
<line x1="459.3" y1="448.8" x2="459.3" y2="494.9" stroke="#111" stroke-width="1.3"/>
<line x1="453.8" y1="448.8" x2="464.8" y2="448.8" stroke="#111" stroke-width="1.3"/>
<line x1="453.8" y1="494.9" x2="464.8" y2="494.9" stroke="#111" stroke-width="1.3"/>
<ellipse cx="459.3" cy="471.8" rx="8.4" ry="7.4" fill="#fff" stroke="#111" stroke-width="1.3"/>
<line x1="554" y1="316.9" x2="554" y2="363.2" stroke="#111" stroke-width="1.3"/>
<line x1="548.5" y1="316.9" x2="559.5" y2="316.9" stroke="#111" stroke-width="1.3"/>
<line x1="548.5" y1="363.2" x2="559.5" y2="363.2" stroke="#111" stroke-width="1.3"/>
<ellipse cx="554" cy="339.8" rx="8.4" ry="7.4" fill="#fff" stroke="#111" stroke-width="1.3"/>
<line x1="649" y1="385.5" x2="649" y2="430.1" stroke="#111" stroke-width="1.3"/>
<line x1="643.5" y1="385.5" x2="654.5" y2="385.5" stroke="#111" stroke-width="1.3"/>
<line x1="643.5" y1="430.1" x2="654.5" y2="430.1" stroke="#111" stroke-width="1.3"/>
<ellipse cx="649" cy="408.5" rx="8.4" ry="7.4" fill="#fff" stroke="#111" stroke-width="1.3"/>
<text font-family="Liberation Sans, sans-serif" font-size="100" font-style="italic" fill="#000" transform="translate(462.50,508.90) rotate(-27) scale(0.12000,0.12000) translate(-162.30,35.75)" xml:space="preserve">Control</text>
<text font-family="Liberation Sans, sans-serif" font-size="100" font-style="italic" fill="#000" transform="translate(560.30,508.70) rotate(-27) scale(0.12600,0.12600) translate(-128.80,34.40)" xml:space="preserve">+SKF</text>
<text font-family="Liberation Sans, sans-serif" font-size="100" font-style="italic" fill="#000" transform="translate(647.60,502.60) rotate(-27) scale(0.12400,0.12400) translate(-126.45,34.40)" xml:space="preserve">SKF+</text>
<text font-family="Liberation Sans, sans-serif" font-size="100" font-style="italic" fill="#000" transform="translate(654.90,512.40) rotate(-27) scale(0.12000,0.12000) translate(-250.10,25.85)" xml:space="preserve">Nicardipine</text>
</svg>
</body></html>
